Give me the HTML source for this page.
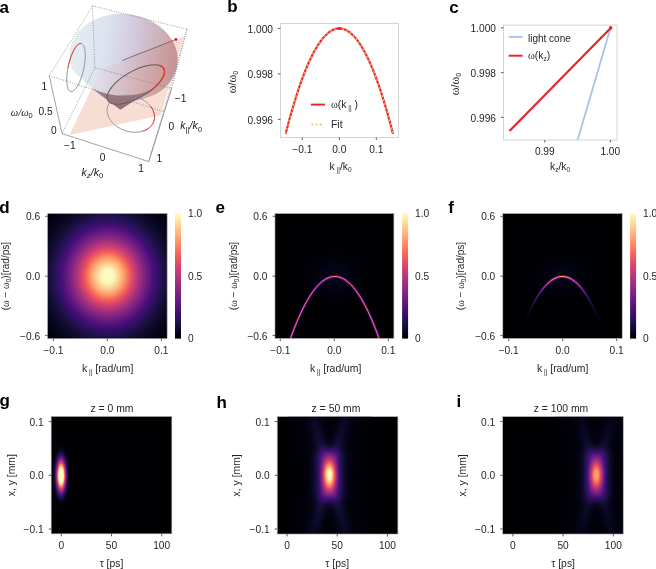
<!DOCTYPE html>
<html><head><meta charset="utf-8"><style>
html,body{margin:0;padding:0;background:#fff;width:656px;height:569px;overflow:hidden}
svg{display:block;will-change:transform}

</style></head><body>
<svg width="656" height="569" viewBox="0 0 656 569" font-family="Liberation Sans, sans-serif">
<defs><filter id="mg" x="0" y="0" width="656" height="569" filterUnits="userSpaceOnUse" color-interpolation-filters="sRGB">
<feComponentTransfer><feFuncR type="table" tableValues="0.0015 0.0060 0.0137 0.0248 0.0396 0.0566 0.0743 0.0929 0.1131 0.1351 0.1590 0.1848 0.2117 0.2388 0.2654 0.2914 0.3229 0.3476 0.3721 0.3965 0.4208 0.4452 0.4696 0.4943 0.5190 0.5440 0.5692 0.5945 0.6200 0.6456 0.6713 0.6971 0.7292 0.7547 0.7800 0.8048 0.8289 0.8521 0.8742 0.8947 0.9134 0.9298 0.9440 0.9558 0.9655 0.9734 0.9796 0.9846 0.9894 0.9922 0.9943 0.9958 0.9968 0.9973 0.9973 0.9970 0.9964 0.9954 0.9942 0.9928 0.9913 0.9898 0.9884 0.9871"/><feFuncG type="table" tableValues="0.0005 0.0048 0.0118 0.0207 0.0311 0.0422 0.0520 0.0599 0.0655 0.0684 0.0684 0.0657 0.0620 0.0595 0.0602 0.0646 0.0738 0.0829 0.0928 0.1029 0.1129 0.1227 0.1322 0.1415 0.1504 0.1590 0.1675 0.1757 0.1838 0.1920 0.2001 0.2085 0.2194 0.2288 0.2389 0.2499 0.2622 0.2761 0.2919 0.3098 0.3301 0.3527 0.3776 0.4044 0.4325 0.4615 0.4910 0.5207 0.5579 0.5875 0.6170 0.6463 0.6755 0.7046 0.7335 0.7624 0.7912 0.8199 0.8485 0.8772 0.9058 0.9343 0.9629 0.9914"/><feFuncB type="table" tableValues="0.0139 0.0371 0.0687 0.1007 0.1335 0.1674 0.2027 0.2392 0.2768 0.3150 0.3527 0.3880 0.4186 0.4433 0.4618 0.4755 0.4874 0.4941 0.4991 0.5027 0.5052 0.5069 0.5078 0.5080 0.5074 0.5062 0.5041 0.5012 0.4975 0.4929 0.4874 0.4808 0.4713 0.4625 0.4528 0.4421 0.4306 0.4186 0.4062 0.3940 0.3826 0.3727 0.3651 0.3606 0.3595 0.3620 0.3678 0.3767 0.3917 0.4063 0.4229 0.4414 0.4613 0.4826 0.5052 0.5288 0.5535 0.5791 0.6057 0.6331 0.6613 0.6902 0.7196 0.7495"/></feComponentTransfer></filter><filter id="mgb" x="0" y="0" width="656" height="569" filterUnits="userSpaceOnUse" color-interpolation-filters="sRGB">
<feGaussianBlur stdDeviation="0.3 0.6"/><feComponentTransfer><feFuncR type="table" tableValues="0.0015 0.0060 0.0137 0.0248 0.0396 0.0566 0.0743 0.0929 0.1131 0.1351 0.1590 0.1848 0.2117 0.2388 0.2654 0.2914 0.3229 0.3476 0.3721 0.3965 0.4208 0.4452 0.4696 0.4943 0.5190 0.5440 0.5692 0.5945 0.6200 0.6456 0.6713 0.6971 0.7292 0.7547 0.7800 0.8048 0.8289 0.8521 0.8742 0.8947 0.9134 0.9298 0.9440 0.9558 0.9655 0.9734 0.9796 0.9846 0.9894 0.9922 0.9943 0.9958 0.9968 0.9973 0.9973 0.9970 0.9964 0.9954 0.9942 0.9928 0.9913 0.9898 0.9884 0.9871"/><feFuncG type="table" tableValues="0.0005 0.0048 0.0118 0.0207 0.0311 0.0422 0.0520 0.0599 0.0655 0.0684 0.0684 0.0657 0.0620 0.0595 0.0602 0.0646 0.0738 0.0829 0.0928 0.1029 0.1129 0.1227 0.1322 0.1415 0.1504 0.1590 0.1675 0.1757 0.1838 0.1920 0.2001 0.2085 0.2194 0.2288 0.2389 0.2499 0.2622 0.2761 0.2919 0.3098 0.3301 0.3527 0.3776 0.4044 0.4325 0.4615 0.4910 0.5207 0.5579 0.5875 0.6170 0.6463 0.6755 0.7046 0.7335 0.7624 0.7912 0.8199 0.8485 0.8772 0.9058 0.9343 0.9629 0.9914"/><feFuncB type="table" tableValues="0.0139 0.0371 0.0687 0.1007 0.1335 0.1674 0.2027 0.2392 0.2768 0.3150 0.3527 0.3880 0.4186 0.4433 0.4618 0.4755 0.4874 0.4941 0.4991 0.5027 0.5052 0.5069 0.5078 0.5080 0.5074 0.5062 0.5041 0.5012 0.4975 0.4929 0.4874 0.4808 0.4713 0.4625 0.4528 0.4421 0.4306 0.4186 0.4062 0.3940 0.3826 0.3727 0.3651 0.3606 0.3595 0.3620 0.3678 0.3767 0.3917 0.4063 0.4229 0.4414 0.4613 0.4826 0.5052 0.5288 0.5535 0.5791 0.6057 0.6331 0.6613 0.6902 0.7196 0.7495"/></feComponentTransfer></filter><linearGradient id="cbar" x1="0" y1="0" x2="0" y2="1"><stop offset="0.0000" stop-color="#fcfdbf"/><stop offset="0.0312" stop-color="#fcf0b2"/><stop offset="0.0625" stop-color="#fde2a3"/><stop offset="0.0938" stop-color="#fed395"/><stop offset="0.1250" stop-color="#fec488"/><stop offset="0.1562" stop-color="#feb67c"/><stop offset="0.1875" stop-color="#fea772"/><stop offset="0.2188" stop-color="#fd9869"/><stop offset="0.2500" stop-color="#fc8961"/><stop offset="0.2812" stop-color="#f9795d"/><stop offset="0.3125" stop-color="#f56b5c"/><stop offset="0.3438" stop-color="#ef5d5e"/><stop offset="0.3750" stop-color="#e75263"/><stop offset="0.4062" stop-color="#dc4869"/><stop offset="0.4375" stop-color="#d0416f"/><stop offset="0.4688" stop-color="#c43c75"/><stop offset="0.5000" stop-color="#b73779"/><stop offset="0.5312" stop-color="#aa337d"/><stop offset="0.5625" stop-color="#9c2e7f"/><stop offset="0.5938" stop-color="#902a81"/><stop offset="0.6250" stop-color="#832681"/><stop offset="0.6562" stop-color="#762181"/><stop offset="0.6875" stop-color="#6a1c81"/><stop offset="0.7188" stop-color="#5d177f"/><stop offset="0.7500" stop-color="#51127c"/><stop offset="0.7812" stop-color="#440f76"/><stop offset="0.8125" stop-color="#36106b"/><stop offset="0.8438" stop-color="#29115a"/><stop offset="0.8750" stop-color="#1d1147"/><stop offset="0.9062" stop-color="#130d34"/><stop offset="0.9375" stop-color="#0a0822"/><stop offset="0.9688" stop-color="#030312"/><stop offset="1.0000" stop-color="#000004"/></linearGradient><radialGradient id="gd" gradientUnits="userSpaceOnUse" cx="0" cy="0" r="1" gradientTransform="translate(107.6 276.2) scale(129.25 141.35)"><stop offset="0.0000" stop-color="rgb(255,255,255)"/><stop offset="0.0250" stop-color="rgb(255,255,255)"/><stop offset="0.0500" stop-color="rgb(252,252,252)"/><stop offset="0.0750" stop-color="rgb(238,238,238)"/><stop offset="0.1000" stop-color="rgb(222,222,222)"/><stop offset="0.1250" stop-color="rgb(205,205,205)"/><stop offset="0.1500" stop-color="rgb(186,186,186)"/><stop offset="0.1750" stop-color="rgb(167,167,167)"/><stop offset="0.2000" stop-color="rgb(149,149,149)"/><stop offset="0.2250" stop-color="rgb(132,132,132)"/><stop offset="0.2500" stop-color="rgb(115,115,115)"/><stop offset="0.2750" stop-color="rgb(100,100,100)"/><stop offset="0.3000" stop-color="rgb(85,85,85)"/><stop offset="0.3250" stop-color="rgb(73,73,73)"/><stop offset="0.3500" stop-color="rgb(61,61,61)"/><stop offset="0.3750" stop-color="rgb(51,51,51)"/><stop offset="0.4000" stop-color="rgb(43,43,43)"/><stop offset="0.4250" stop-color="rgb(35,35,35)"/><stop offset="0.4500" stop-color="rgb(29,29,29)"/><stop offset="0.4750" stop-color="rgb(23,23,23)"/><stop offset="0.5000" stop-color="rgb(19,19,19)"/><stop offset="0.5250" stop-color="rgb(15,15,15)"/><stop offset="0.5500" stop-color="rgb(12,12,12)"/><stop offset="0.5750" stop-color="rgb(9,9,9)"/><stop offset="0.6000" stop-color="rgb(7,7,7)"/><stop offset="0.6250" stop-color="rgb(6,6,6)"/><stop offset="0.6500" stop-color="rgb(4,4,4)"/><stop offset="0.6750" stop-color="rgb(3,3,3)"/><stop offset="0.7000" stop-color="rgb(3,3,3)"/><stop offset="0.7250" stop-color="rgb(2,2,2)"/><stop offset="0.7500" stop-color="rgb(2,2,2)"/><stop offset="0.7750" stop-color="rgb(1,1,1)"/><stop offset="0.8000" stop-color="rgb(1,1,1)"/><stop offset="0.8250" stop-color="rgb(1,1,1)"/><stop offset="0.8500" stop-color="rgb(0,0,0)"/><stop offset="0.8750" stop-color="rgb(0,0,0)"/><stop offset="0.9000" stop-color="rgb(0,0,0)"/><stop offset="0.9250" stop-color="rgb(0,0,0)"/><stop offset="0.9500" stop-color="rgb(0,0,0)"/><stop offset="0.9750" stop-color="rgb(0,0,0)"/><stop offset="1.0000" stop-color="rgb(0,0,0)"/></radialGradient><clipPath id="ce"><rect x="275" y="213.4" width="118.89999999999998" height="125.20000000000002"/></clipPath><radialGradient id="ge_glow" gradientUnits="userSpaceOnUse" cx="0" cy="0" r="1" gradientTransform="translate(334.8 276.5) rotate(0) scale(72.0 60.0)"><stop offset="0.0000" stop-color="#fff" stop-opacity="0.0500"/><stop offset="0.0250" stop-color="#fff" stop-opacity="0.0498"/><stop offset="0.0500" stop-color="#fff" stop-opacity="0.0490"/><stop offset="0.0750" stop-color="#fff" stop-opacity="0.0478"/><stop offset="0.1000" stop-color="#fff" stop-opacity="0.0462"/><stop offset="0.1250" stop-color="#fff" stop-opacity="0.0441"/><stop offset="0.1500" stop-color="#fff" stop-opacity="0.0418"/><stop offset="0.1750" stop-color="#fff" stop-opacity="0.0391"/><stop offset="0.2000" stop-color="#fff" stop-opacity="0.0363"/><stop offset="0.2250" stop-color="#fff" stop-opacity="0.0333"/><stop offset="0.2500" stop-color="#fff" stop-opacity="0.0303"/><stop offset="0.2750" stop-color="#fff" stop-opacity="0.0273"/><stop offset="0.3000" stop-color="#fff" stop-opacity="0.0243"/><stop offset="0.3250" stop-color="#fff" stop-opacity="0.0215"/><stop offset="0.3500" stop-color="#fff" stop-opacity="0.0188"/><stop offset="0.3750" stop-color="#fff" stop-opacity="0.0162"/><stop offset="0.4000" stop-color="#fff" stop-opacity="0.0139"/><stop offset="0.4250" stop-color="#fff" stop-opacity="0.0118"/><stop offset="0.4500" stop-color="#fff" stop-opacity="0.0099"/><stop offset="0.4750" stop-color="#fff" stop-opacity="0.0082"/><stop offset="0.5000" stop-color="#fff" stop-opacity="0.0068"/><stop offset="0.5250" stop-color="#fff" stop-opacity="0.0055"/><stop offset="0.5500" stop-color="#fff" stop-opacity="0.0044"/><stop offset="0.5750" stop-color="#fff" stop-opacity="0.0036"/><stop offset="0.6000" stop-color="#fff" stop-opacity="0.0028"/><stop offset="0.6250" stop-color="#fff" stop-opacity="0.0022"/><stop offset="0.6500" stop-color="#fff" stop-opacity="0.0017"/><stop offset="0.6750" stop-color="#fff" stop-opacity="0.0013"/><stop offset="0.7000" stop-color="#fff" stop-opacity="0.0010"/><stop offset="0.7250" stop-color="#fff" stop-opacity="0.0007"/><stop offset="0.7500" stop-color="#fff" stop-opacity="0.0006"/><stop offset="0.7750" stop-color="#fff" stop-opacity="0.0004"/><stop offset="0.8000" stop-color="#fff" stop-opacity="0.0003"/><stop offset="0.8250" stop-color="#fff" stop-opacity="0.0002"/><stop offset="0.8500" stop-color="#fff" stop-opacity="0.0002"/><stop offset="0.8750" stop-color="#fff" stop-opacity="0.0001"/><stop offset="0.9000" stop-color="#fff" stop-opacity="0.0001"/><stop offset="0.9250" stop-color="#fff" stop-opacity="0.0001"/><stop offset="0.9500" stop-color="#fff" stop-opacity="0.0000"/><stop offset="0.9750" stop-color="#fff" stop-opacity="0.0000"/><stop offset="1.0000" stop-color="#fff" stop-opacity="0.0000"/></radialGradient><clipPath id="cf"><rect x="502.8" y="213.4" width="119.40000000000003" height="125.20000000000002"/></clipPath><radialGradient id="gfm" gradientUnits="userSpaceOnUse" cx="0" cy="0" r="1" gradientTransform="translate(562.4 276.5) scale(105 117.5)"><stop offset="0.0000" stop-color="rgb(255,255,255)"/><stop offset="0.0250" stop-color="rgb(253,253,253)"/><stop offset="0.0500" stop-color="rgb(247,247,247)"/><stop offset="0.0750" stop-color="rgb(238,238,238)"/><stop offset="0.1000" stop-color="rgb(225,225,225)"/><stop offset="0.1250" stop-color="rgb(210,210,210)"/><stop offset="0.1500" stop-color="rgb(192,192,192)"/><stop offset="0.1750" stop-color="rgb(174,174,174)"/><stop offset="0.2000" stop-color="rgb(155,155,155)"/><stop offset="0.2250" stop-color="rgb(135,135,135)"/><stop offset="0.2500" stop-color="rgb(117,117,117)"/><stop offset="0.2750" stop-color="rgb(99,99,99)"/><stop offset="0.3000" stop-color="rgb(83,83,83)"/><stop offset="0.3250" stop-color="rgb(68,68,68)"/><stop offset="0.3500" stop-color="rgb(55,55,55)"/><stop offset="0.3750" stop-color="rgb(44,44,44)"/><stop offset="0.4000" stop-color="rgb(35,35,35)"/><stop offset="0.4250" stop-color="rgb(27,27,27)"/><stop offset="0.4500" stop-color="rgb(20,20,20)"/><stop offset="0.4750" stop-color="rgb(15,15,15)"/><stop offset="0.5000" stop-color="rgb(11,11,11)"/><stop offset="0.5250" stop-color="rgb(8,8,8)"/><stop offset="0.5500" stop-color="rgb(6,6,6)"/><stop offset="0.5750" stop-color="rgb(4,4,4)"/><stop offset="0.6000" stop-color="rgb(3,3,3)"/><stop offset="0.6250" stop-color="rgb(2,2,2)"/><stop offset="0.6500" stop-color="rgb(1,1,1)"/><stop offset="0.6750" stop-color="rgb(1,1,1)"/><stop offset="0.7000" stop-color="rgb(1,1,1)"/><stop offset="0.7250" stop-color="rgb(0,0,0)"/><stop offset="0.7500" stop-color="rgb(0,0,0)"/><stop offset="0.7750" stop-color="rgb(0,0,0)"/><stop offset="0.8000" stop-color="rgb(0,0,0)"/><stop offset="0.8250" stop-color="rgb(0,0,0)"/><stop offset="0.8500" stop-color="rgb(0,0,0)"/><stop offset="0.8750" stop-color="rgb(0,0,0)"/><stop offset="0.9000" stop-color="rgb(0,0,0)"/><stop offset="0.9250" stop-color="rgb(0,0,0)"/><stop offset="0.9500" stop-color="rgb(0,0,0)"/><stop offset="0.9750" stop-color="rgb(0,0,0)"/><stop offset="1.0000" stop-color="rgb(0,0,0)"/></radialGradient><mask id="mf" maskUnits="userSpaceOnUse" x="502.8" y="213.4" width="119.40000000000003" height="125.20000000000002"><rect x="502.8" y="213.4" width="119.40000000000003" height="125.20000000000002" fill="url(#gfm)"/></mask><radialGradient id="gf_glow" gradientUnits="userSpaceOnUse" cx="0" cy="0" r="1" gradientTransform="translate(562.4 276.5) rotate(0) scale(64.0 56.0)"><stop offset="0.0000" stop-color="#fff" stop-opacity="0.0450"/><stop offset="0.0250" stop-color="#fff" stop-opacity="0.0448"/><stop offset="0.0500" stop-color="#fff" stop-opacity="0.0441"/><stop offset="0.0750" stop-color="#fff" stop-opacity="0.0430"/><stop offset="0.1000" stop-color="#fff" stop-opacity="0.0415"/><stop offset="0.1250" stop-color="#fff" stop-opacity="0.0397"/><stop offset="0.1500" stop-color="#fff" stop-opacity="0.0376"/><stop offset="0.1750" stop-color="#fff" stop-opacity="0.0352"/><stop offset="0.2000" stop-color="#fff" stop-opacity="0.0327"/><stop offset="0.2250" stop-color="#fff" stop-opacity="0.0300"/><stop offset="0.2500" stop-color="#fff" stop-opacity="0.0273"/><stop offset="0.2750" stop-color="#fff" stop-opacity="0.0246"/><stop offset="0.3000" stop-color="#fff" stop-opacity="0.0219"/><stop offset="0.3250" stop-color="#fff" stop-opacity="0.0193"/><stop offset="0.3500" stop-color="#fff" stop-opacity="0.0169"/><stop offset="0.3750" stop-color="#fff" stop-opacity="0.0146"/><stop offset="0.4000" stop-color="#fff" stop-opacity="0.0125"/><stop offset="0.4250" stop-color="#fff" stop-opacity="0.0106"/><stop offset="0.4500" stop-color="#fff" stop-opacity="0.0089"/><stop offset="0.4750" stop-color="#fff" stop-opacity="0.0074"/><stop offset="0.5000" stop-color="#fff" stop-opacity="0.0061"/><stop offset="0.5250" stop-color="#fff" stop-opacity="0.0050"/><stop offset="0.5500" stop-color="#fff" stop-opacity="0.0040"/><stop offset="0.5750" stop-color="#fff" stop-opacity="0.0032"/><stop offset="0.6000" stop-color="#fff" stop-opacity="0.0025"/><stop offset="0.6250" stop-color="#fff" stop-opacity="0.0020"/><stop offset="0.6500" stop-color="#fff" stop-opacity="0.0015"/><stop offset="0.6750" stop-color="#fff" stop-opacity="0.0012"/><stop offset="0.7000" stop-color="#fff" stop-opacity="0.0009"/><stop offset="0.7250" stop-color="#fff" stop-opacity="0.0007"/><stop offset="0.7500" stop-color="#fff" stop-opacity="0.0005"/><stop offset="0.7750" stop-color="#fff" stop-opacity="0.0004"/><stop offset="0.8000" stop-color="#fff" stop-opacity="0.0003"/><stop offset="0.8250" stop-color="#fff" stop-opacity="0.0002"/><stop offset="0.8500" stop-color="#fff" stop-opacity="0.0001"/><stop offset="0.8750" stop-color="#fff" stop-opacity="0.0001"/><stop offset="0.9000" stop-color="#fff" stop-opacity="0.0001"/><stop offset="0.9250" stop-color="#fff" stop-opacity="0.0000"/><stop offset="0.9500" stop-color="#fff" stop-opacity="0.0000"/><stop offset="0.9750" stop-color="#fff" stop-opacity="0.0000"/><stop offset="1.0000" stop-color="#fff" stop-opacity="0.0000"/></radialGradient><radialGradient id="gg" gradientUnits="userSpaceOnUse" cx="0" cy="0" r="1" gradientTransform="translate(61.1 475.6) scale(13.950000000000001 47.25)"><stop offset="0.0000" stop-color="rgb(255,255,255)"/><stop offset="0.0250" stop-color="rgb(255,255,255)"/><stop offset="0.0500" stop-color="rgb(255,255,255)"/><stop offset="0.0750" stop-color="rgb(255,255,255)"/><stop offset="0.1000" stop-color="rgb(255,255,255)"/><stop offset="0.1250" stop-color="rgb(255,255,255)"/><stop offset="0.1500" stop-color="rgb(255,255,255)"/><stop offset="0.1750" stop-color="rgb(243,243,243)"/><stop offset="0.2000" stop-color="rgb(221,221,221)"/><stop offset="0.2250" stop-color="rgb(199,199,199)"/><stop offset="0.2500" stop-color="rgb(176,176,176)"/><stop offset="0.2750" stop-color="rgb(154,154,154)"/><stop offset="0.3000" stop-color="rgb(133,133,133)"/><stop offset="0.3250" stop-color="rgb(114,114,114)"/><stop offset="0.3500" stop-color="rgb(96,96,96)"/><stop offset="0.3750" stop-color="rgb(80,80,80)"/><stop offset="0.4000" stop-color="rgb(66,66,66)"/><stop offset="0.4250" stop-color="rgb(53,53,53)"/><stop offset="0.4500" stop-color="rgb(43,43,43)"/><stop offset="0.4750" stop-color="rgb(34,34,34)"/><stop offset="0.5000" stop-color="rgb(26,26,26)"/><stop offset="0.5250" stop-color="rgb(20,20,20)"/><stop offset="0.5500" stop-color="rgb(15,15,15)"/><stop offset="0.5750" stop-color="rgb(12,12,12)"/><stop offset="0.6000" stop-color="rgb(9,9,9)"/><stop offset="0.6250" stop-color="rgb(6,6,6)"/><stop offset="0.6500" stop-color="rgb(5,5,5)"/><stop offset="0.6750" stop-color="rgb(3,3,3)"/><stop offset="0.7000" stop-color="rgb(2,2,2)"/><stop offset="0.7250" stop-color="rgb(2,2,2)"/><stop offset="0.7500" stop-color="rgb(1,1,1)"/><stop offset="0.7750" stop-color="rgb(1,1,1)"/><stop offset="0.8000" stop-color="rgb(1,1,1)"/><stop offset="0.8250" stop-color="rgb(0,0,0)"/><stop offset="0.8500" stop-color="rgb(0,0,0)"/><stop offset="0.8750" stop-color="rgb(0,0,0)"/><stop offset="0.9000" stop-color="rgb(0,0,0)"/><stop offset="0.9250" stop-color="rgb(0,0,0)"/><stop offset="0.9500" stop-color="rgb(0,0,0)"/><stop offset="0.9750" stop-color="rgb(0,0,0)"/><stop offset="1.0000" stop-color="rgb(0,0,0)"/></radialGradient><linearGradient id="xr0" gradientUnits="userSpaceOnUse" x1="0" y1="0" x2="42" y2="0" spreadMethod="reflect"><stop offset="0.000" stop-color="rgb(255,255,255)"/><stop offset="0.048" stop-color="rgb(250,250,250)"/><stop offset="0.095" stop-color="rgb(201,201,201)"/><stop offset="0.143" stop-color="rgb(143,143,143)"/><stop offset="0.190" stop-color="rgb(93,93,93)"/><stop offset="0.238" stop-color="rgb(58,58,58)"/><stop offset="0.286" stop-color="rgb(37,37,37)"/><stop offset="0.333" stop-color="rgb(25,25,25)"/><stop offset="0.381" stop-color="rgb(17,17,17)"/><stop offset="0.429" stop-color="rgb(12,12,12)"/><stop offset="0.476" stop-color="rgb(8,8,8)"/><stop offset="0.524" stop-color="rgb(5,5,5)"/><stop offset="0.571" stop-color="rgb(4,4,4)"/><stop offset="0.619" stop-color="rgb(3,3,3)"/><stop offset="0.667" stop-color="rgb(2,2,2)"/><stop offset="0.714" stop-color="rgb(2,2,2)"/><stop offset="0.762" stop-color="rgb(2,2,2)"/><stop offset="0.810" stop-color="rgb(1,1,1)"/><stop offset="0.857" stop-color="rgb(1,1,1)"/><stop offset="0.905" stop-color="rgb(1,1,1)"/><stop offset="0.952" stop-color="rgb(1,1,1)"/><stop offset="1.000" stop-color="rgb(1,1,1)"/></linearGradient><linearGradient id="xr1" gradientUnits="userSpaceOnUse" x1="0" y1="0" x2="42" y2="0" spreadMethod="reflect"><stop offset="0.000" stop-color="rgb(255,255,255)"/><stop offset="0.048" stop-color="rgb(249,249,249)"/><stop offset="0.095" stop-color="rgb(200,200,200)"/><stop offset="0.143" stop-color="rgb(142,142,142)"/><stop offset="0.190" stop-color="rgb(92,92,92)"/><stop offset="0.238" stop-color="rgb(58,58,58)"/><stop offset="0.286" stop-color="rgb(37,37,37)"/><stop offset="0.333" stop-color="rgb(25,25,25)"/><stop offset="0.381" stop-color="rgb(17,17,17)"/><stop offset="0.429" stop-color="rgb(12,12,12)"/><stop offset="0.476" stop-color="rgb(8,8,8)"/><stop offset="0.524" stop-color="rgb(5,5,5)"/><stop offset="0.571" stop-color="rgb(4,4,4)"/><stop offset="0.619" stop-color="rgb(3,3,3)"/><stop offset="0.667" stop-color="rgb(2,2,2)"/><stop offset="0.714" stop-color="rgb(2,2,2)"/><stop offset="0.762" stop-color="rgb(2,2,2)"/><stop offset="0.810" stop-color="rgb(1,1,1)"/><stop offset="0.857" stop-color="rgb(1,1,1)"/><stop offset="0.905" stop-color="rgb(1,1,1)"/><stop offset="0.952" stop-color="rgb(1,1,1)"/><stop offset="1.000" stop-color="rgb(1,1,1)"/></linearGradient><linearGradient id="xr2" gradientUnits="userSpaceOnUse" x1="0" y1="0" x2="42" y2="0" spreadMethod="reflect"><stop offset="0.000" stop-color="rgb(255,255,255)"/><stop offset="0.048" stop-color="rgb(246,246,246)"/><stop offset="0.095" stop-color="rgb(198,198,198)"/><stop offset="0.143" stop-color="rgb(140,140,140)"/><stop offset="0.190" stop-color="rgb(92,92,92)"/><stop offset="0.238" stop-color="rgb(58,58,58)"/><stop offset="0.286" stop-color="rgb(37,37,37)"/><stop offset="0.333" stop-color="rgb(25,25,25)"/><stop offset="0.381" stop-color="rgb(17,17,17)"/><stop offset="0.429" stop-color="rgb(12,12,12)"/><stop offset="0.476" stop-color="rgb(8,8,8)"/><stop offset="0.524" stop-color="rgb(5,5,5)"/><stop offset="0.571" stop-color="rgb(4,4,4)"/><stop offset="0.619" stop-color="rgb(3,3,3)"/><stop offset="0.667" stop-color="rgb(2,2,2)"/><stop offset="0.714" stop-color="rgb(2,2,2)"/><stop offset="0.762" stop-color="rgb(2,2,2)"/><stop offset="0.810" stop-color="rgb(1,1,1)"/><stop offset="0.857" stop-color="rgb(1,1,1)"/><stop offset="0.905" stop-color="rgb(1,1,1)"/><stop offset="0.952" stop-color="rgb(1,1,1)"/><stop offset="1.000" stop-color="rgb(1,1,1)"/></linearGradient><linearGradient id="xr3" gradientUnits="userSpaceOnUse" x1="0" y1="0" x2="42" y2="0" spreadMethod="reflect"><stop offset="0.000" stop-color="rgb(255,255,255)"/><stop offset="0.048" stop-color="rgb(241,241,241)"/><stop offset="0.095" stop-color="rgb(194,194,194)"/><stop offset="0.143" stop-color="rgb(138,138,138)"/><stop offset="0.190" stop-color="rgb(91,91,91)"/><stop offset="0.238" stop-color="rgb(58,58,58)"/><stop offset="0.286" stop-color="rgb(37,37,37)"/><stop offset="0.333" stop-color="rgb(25,25,25)"/><stop offset="0.381" stop-color="rgb(17,17,17)"/><stop offset="0.429" stop-color="rgb(12,12,12)"/><stop offset="0.476" stop-color="rgb(8,8,8)"/><stop offset="0.524" stop-color="rgb(6,6,6)"/><stop offset="0.571" stop-color="rgb(4,4,4)"/><stop offset="0.619" stop-color="rgb(3,3,3)"/><stop offset="0.667" stop-color="rgb(2,2,2)"/><stop offset="0.714" stop-color="rgb(2,2,2)"/><stop offset="0.762" stop-color="rgb(2,2,2)"/><stop offset="0.810" stop-color="rgb(1,1,1)"/><stop offset="0.857" stop-color="rgb(1,1,1)"/><stop offset="0.905" stop-color="rgb(1,1,1)"/><stop offset="0.952" stop-color="rgb(1,1,1)"/><stop offset="1.000" stop-color="rgb(1,1,1)"/></linearGradient><linearGradient id="xr4" gradientUnits="userSpaceOnUse" x1="0" y1="0" x2="42" y2="0" spreadMethod="reflect"><stop offset="0.000" stop-color="rgb(253,253,253)"/><stop offset="0.048" stop-color="rgb(235,235,235)"/><stop offset="0.095" stop-color="rgb(190,190,190)"/><stop offset="0.143" stop-color="rgb(136,136,136)"/><stop offset="0.190" stop-color="rgb(90,90,90)"/><stop offset="0.238" stop-color="rgb(57,57,57)"/><stop offset="0.286" stop-color="rgb(37,37,37)"/><stop offset="0.333" stop-color="rgb(25,25,25)"/><stop offset="0.381" stop-color="rgb(17,17,17)"/><stop offset="0.429" stop-color="rgb(12,12,12)"/><stop offset="0.476" stop-color="rgb(8,8,8)"/><stop offset="0.524" stop-color="rgb(6,6,6)"/><stop offset="0.571" stop-color="rgb(4,4,4)"/><stop offset="0.619" stop-color="rgb(3,3,3)"/><stop offset="0.667" stop-color="rgb(2,2,2)"/><stop offset="0.714" stop-color="rgb(2,2,2)"/><stop offset="0.762" stop-color="rgb(2,2,2)"/><stop offset="0.810" stop-color="rgb(1,1,1)"/><stop offset="0.857" stop-color="rgb(1,1,1)"/><stop offset="0.905" stop-color="rgb(1,1,1)"/><stop offset="0.952" stop-color="rgb(1,1,1)"/><stop offset="1.000" stop-color="rgb(1,1,1)"/></linearGradient><linearGradient id="xr5" gradientUnits="userSpaceOnUse" x1="0" y1="0" x2="42" y2="0" spreadMethod="reflect"><stop offset="0.000" stop-color="rgb(246,246,246)"/><stop offset="0.048" stop-color="rgb(228,228,228)"/><stop offset="0.095" stop-color="rgb(185,185,185)"/><stop offset="0.143" stop-color="rgb(133,133,133)"/><stop offset="0.190" stop-color="rgb(88,88,88)"/><stop offset="0.238" stop-color="rgb(57,57,57)"/><stop offset="0.286" stop-color="rgb(37,37,37)"/><stop offset="0.333" stop-color="rgb(25,25,25)"/><stop offset="0.381" stop-color="rgb(17,17,17)"/><stop offset="0.429" stop-color="rgb(12,12,12)"/><stop offset="0.476" stop-color="rgb(8,8,8)"/><stop offset="0.524" stop-color="rgb(6,6,6)"/><stop offset="0.571" stop-color="rgb(4,4,4)"/><stop offset="0.619" stop-color="rgb(3,3,3)"/><stop offset="0.667" stop-color="rgb(2,2,2)"/><stop offset="0.714" stop-color="rgb(2,2,2)"/><stop offset="0.762" stop-color="rgb(2,2,2)"/><stop offset="0.810" stop-color="rgb(1,1,1)"/><stop offset="0.857" stop-color="rgb(1,1,1)"/><stop offset="0.905" stop-color="rgb(1,1,1)"/><stop offset="0.952" stop-color="rgb(1,1,1)"/><stop offset="1.000" stop-color="rgb(1,1,1)"/></linearGradient><linearGradient id="xr6" gradientUnits="userSpaceOnUse" x1="0" y1="0" x2="42" y2="0" spreadMethod="reflect"><stop offset="0.000" stop-color="rgb(237,237,237)"/><stop offset="0.048" stop-color="rgb(220,220,220)"/><stop offset="0.095" stop-color="rgb(179,179,179)"/><stop offset="0.143" stop-color="rgb(129,129,129)"/><stop offset="0.190" stop-color="rgb(86,86,86)"/><stop offset="0.238" stop-color="rgb(56,56,56)"/><stop offset="0.286" stop-color="rgb(37,37,37)"/><stop offset="0.333" stop-color="rgb(25,25,25)"/><stop offset="0.381" stop-color="rgb(17,17,17)"/><stop offset="0.429" stop-color="rgb(12,12,12)"/><stop offset="0.476" stop-color="rgb(8,8,8)"/><stop offset="0.524" stop-color="rgb(6,6,6)"/><stop offset="0.571" stop-color="rgb(4,4,4)"/><stop offset="0.619" stop-color="rgb(3,3,3)"/><stop offset="0.667" stop-color="rgb(2,2,2)"/><stop offset="0.714" stop-color="rgb(2,2,2)"/><stop offset="0.762" stop-color="rgb(2,2,2)"/><stop offset="0.810" stop-color="rgb(1,1,1)"/><stop offset="0.857" stop-color="rgb(1,1,1)"/><stop offset="0.905" stop-color="rgb(1,1,1)"/><stop offset="0.952" stop-color="rgb(1,1,1)"/><stop offset="1.000" stop-color="rgb(1,1,1)"/></linearGradient><linearGradient id="xr7" gradientUnits="userSpaceOnUse" x1="0" y1="0" x2="42" y2="0" spreadMethod="reflect"><stop offset="0.000" stop-color="rgb(227,227,227)"/><stop offset="0.048" stop-color="rgb(211,211,211)"/><stop offset="0.095" stop-color="rgb(172,172,172)"/><stop offset="0.143" stop-color="rgb(126,126,126)"/><stop offset="0.190" stop-color="rgb(85,85,85)"/><stop offset="0.238" stop-color="rgb(56,56,56)"/><stop offset="0.286" stop-color="rgb(37,37,37)"/><stop offset="0.333" stop-color="rgb(25,25,25)"/><stop offset="0.381" stop-color="rgb(18,18,18)"/><stop offset="0.429" stop-color="rgb(12,12,12)"/><stop offset="0.476" stop-color="rgb(8,8,8)"/><stop offset="0.524" stop-color="rgb(6,6,6)"/><stop offset="0.571" stop-color="rgb(4,4,4)"/><stop offset="0.619" stop-color="rgb(3,3,3)"/><stop offset="0.667" stop-color="rgb(2,2,2)"/><stop offset="0.714" stop-color="rgb(2,2,2)"/><stop offset="0.762" stop-color="rgb(2,2,2)"/><stop offset="0.810" stop-color="rgb(1,1,1)"/><stop offset="0.857" stop-color="rgb(1,1,1)"/><stop offset="0.905" stop-color="rgb(1,1,1)"/><stop offset="0.952" stop-color="rgb(1,1,1)"/><stop offset="1.000" stop-color="rgb(1,1,1)"/></linearGradient><linearGradient id="xr8" gradientUnits="userSpaceOnUse" x1="0" y1="0" x2="42" y2="0" spreadMethod="reflect"><stop offset="0.000" stop-color="rgb(216,216,216)"/><stop offset="0.048" stop-color="rgb(202,202,202)"/><stop offset="0.095" stop-color="rgb(166,166,166)"/><stop offset="0.143" stop-color="rgb(122,122,122)"/><stop offset="0.190" stop-color="rgb(83,83,83)"/><stop offset="0.238" stop-color="rgb(55,55,55)"/><stop offset="0.286" stop-color="rgb(37,37,37)"/><stop offset="0.333" stop-color="rgb(25,25,25)"/><stop offset="0.381" stop-color="rgb(18,18,18)"/><stop offset="0.429" stop-color="rgb(12,12,12)"/><stop offset="0.476" stop-color="rgb(9,9,9)"/><stop offset="0.524" stop-color="rgb(6,6,6)"/><stop offset="0.571" stop-color="rgb(4,4,4)"/><stop offset="0.619" stop-color="rgb(3,3,3)"/><stop offset="0.667" stop-color="rgb(2,2,2)"/><stop offset="0.714" stop-color="rgb(2,2,2)"/><stop offset="0.762" stop-color="rgb(2,2,2)"/><stop offset="0.810" stop-color="rgb(2,2,2)"/><stop offset="0.857" stop-color="rgb(1,1,1)"/><stop offset="0.905" stop-color="rgb(1,1,1)"/><stop offset="0.952" stop-color="rgb(1,1,1)"/><stop offset="1.000" stop-color="rgb(1,1,1)"/></linearGradient><linearGradient id="xr9" gradientUnits="userSpaceOnUse" x1="0" y1="0" x2="42" y2="0" spreadMethod="reflect"><stop offset="0.000" stop-color="rgb(205,205,205)"/><stop offset="0.048" stop-color="rgb(192,192,192)"/><stop offset="0.095" stop-color="rgb(158,158,158)"/><stop offset="0.143" stop-color="rgb(118,118,118)"/><stop offset="0.190" stop-color="rgb(81,81,81)"/><stop offset="0.238" stop-color="rgb(55,55,55)"/><stop offset="0.286" stop-color="rgb(37,37,37)"/><stop offset="0.333" stop-color="rgb(26,26,26)"/><stop offset="0.381" stop-color="rgb(18,18,18)"/><stop offset="0.429" stop-color="rgb(12,12,12)"/><stop offset="0.476" stop-color="rgb(9,9,9)"/><stop offset="0.524" stop-color="rgb(6,6,6)"/><stop offset="0.571" stop-color="rgb(4,4,4)"/><stop offset="0.619" stop-color="rgb(3,3,3)"/><stop offset="0.667" stop-color="rgb(3,3,3)"/><stop offset="0.714" stop-color="rgb(2,2,2)"/><stop offset="0.762" stop-color="rgb(2,2,2)"/><stop offset="0.810" stop-color="rgb(2,2,2)"/><stop offset="0.857" stop-color="rgb(1,1,1)"/><stop offset="0.905" stop-color="rgb(1,1,1)"/><stop offset="0.952" stop-color="rgb(1,1,1)"/><stop offset="1.000" stop-color="rgb(1,1,1)"/></linearGradient><linearGradient id="xr10" gradientUnits="userSpaceOnUse" x1="0" y1="0" x2="42" y2="0" spreadMethod="reflect"><stop offset="0.000" stop-color="rgb(194,194,194)"/><stop offset="0.048" stop-color="rgb(182,182,182)"/><stop offset="0.095" stop-color="rgb(151,151,151)"/><stop offset="0.143" stop-color="rgb(114,114,114)"/><stop offset="0.190" stop-color="rgb(79,79,79)"/><stop offset="0.238" stop-color="rgb(54,54,54)"/><stop offset="0.286" stop-color="rgb(37,37,37)"/><stop offset="0.333" stop-color="rgb(26,26,26)"/><stop offset="0.381" stop-color="rgb(18,18,18)"/><stop offset="0.429" stop-color="rgb(13,13,13)"/><stop offset="0.476" stop-color="rgb(9,9,9)"/><stop offset="0.524" stop-color="rgb(6,6,6)"/><stop offset="0.571" stop-color="rgb(5,5,5)"/><stop offset="0.619" stop-color="rgb(3,3,3)"/><stop offset="0.667" stop-color="rgb(3,3,3)"/><stop offset="0.714" stop-color="rgb(2,2,2)"/><stop offset="0.762" stop-color="rgb(2,2,2)"/><stop offset="0.810" stop-color="rgb(2,2,2)"/><stop offset="0.857" stop-color="rgb(1,1,1)"/><stop offset="0.905" stop-color="rgb(1,1,1)"/><stop offset="0.952" stop-color="rgb(1,1,1)"/><stop offset="1.000" stop-color="rgb(1,1,1)"/></linearGradient><linearGradient id="xr11" gradientUnits="userSpaceOnUse" x1="0" y1="0" x2="42" y2="0" spreadMethod="reflect"><stop offset="0.000" stop-color="rgb(182,182,182)"/><stop offset="0.048" stop-color="rgb(172,172,172)"/><stop offset="0.095" stop-color="rgb(144,144,144)"/><stop offset="0.143" stop-color="rgb(109,109,109)"/><stop offset="0.190" stop-color="rgb(78,78,78)"/><stop offset="0.238" stop-color="rgb(54,54,54)"/><stop offset="0.286" stop-color="rgb(37,37,37)"/><stop offset="0.333" stop-color="rgb(26,26,26)"/><stop offset="0.381" stop-color="rgb(18,18,18)"/><stop offset="0.429" stop-color="rgb(13,13,13)"/><stop offset="0.476" stop-color="rgb(9,9,9)"/><stop offset="0.524" stop-color="rgb(6,6,6)"/><stop offset="0.571" stop-color="rgb(5,5,5)"/><stop offset="0.619" stop-color="rgb(3,3,3)"/><stop offset="0.667" stop-color="rgb(3,3,3)"/><stop offset="0.714" stop-color="rgb(2,2,2)"/><stop offset="0.762" stop-color="rgb(2,2,2)"/><stop offset="0.810" stop-color="rgb(2,2,2)"/><stop offset="0.857" stop-color="rgb(1,1,1)"/><stop offset="0.905" stop-color="rgb(1,1,1)"/><stop offset="0.952" stop-color="rgb(1,1,1)"/><stop offset="1.000" stop-color="rgb(1,1,1)"/></linearGradient><linearGradient id="xr12" gradientUnits="userSpaceOnUse" x1="0" y1="0" x2="42" y2="0" spreadMethod="reflect"><stop offset="0.000" stop-color="rgb(171,171,171)"/><stop offset="0.048" stop-color="rgb(161,161,161)"/><stop offset="0.095" stop-color="rgb(137,137,137)"/><stop offset="0.143" stop-color="rgb(105,105,105)"/><stop offset="0.190" stop-color="rgb(76,76,76)"/><stop offset="0.238" stop-color="rgb(53,53,53)"/><stop offset="0.286" stop-color="rgb(37,37,37)"/><stop offset="0.333" stop-color="rgb(26,26,26)"/><stop offset="0.381" stop-color="rgb(18,18,18)"/><stop offset="0.429" stop-color="rgb(13,13,13)"/><stop offset="0.476" stop-color="rgb(9,9,9)"/><stop offset="0.524" stop-color="rgb(7,7,7)"/><stop offset="0.571" stop-color="rgb(5,5,5)"/><stop offset="0.619" stop-color="rgb(4,4,4)"/><stop offset="0.667" stop-color="rgb(3,3,3)"/><stop offset="0.714" stop-color="rgb(2,2,2)"/><stop offset="0.762" stop-color="rgb(2,2,2)"/><stop offset="0.810" stop-color="rgb(2,2,2)"/><stop offset="0.857" stop-color="rgb(1,1,1)"/><stop offset="0.905" stop-color="rgb(1,1,1)"/><stop offset="0.952" stop-color="rgb(1,1,1)"/><stop offset="1.000" stop-color="rgb(1,1,1)"/></linearGradient><linearGradient id="xr13" gradientUnits="userSpaceOnUse" x1="0" y1="0" x2="42" y2="0" spreadMethod="reflect"><stop offset="0.000" stop-color="rgb(160,160,160)"/><stop offset="0.048" stop-color="rgb(151,151,151)"/><stop offset="0.095" stop-color="rgb(129,129,129)"/><stop offset="0.143" stop-color="rgb(101,101,101)"/><stop offset="0.190" stop-color="rgb(74,74,74)"/><stop offset="0.238" stop-color="rgb(52,52,52)"/><stop offset="0.286" stop-color="rgb(37,37,37)"/><stop offset="0.333" stop-color="rgb(26,26,26)"/><stop offset="0.381" stop-color="rgb(18,18,18)"/><stop offset="0.429" stop-color="rgb(13,13,13)"/><stop offset="0.476" stop-color="rgb(9,9,9)"/><stop offset="0.524" stop-color="rgb(7,7,7)"/><stop offset="0.571" stop-color="rgb(5,5,5)"/><stop offset="0.619" stop-color="rgb(4,4,4)"/><stop offset="0.667" stop-color="rgb(3,3,3)"/><stop offset="0.714" stop-color="rgb(2,2,2)"/><stop offset="0.762" stop-color="rgb(2,2,2)"/><stop offset="0.810" stop-color="rgb(2,2,2)"/><stop offset="0.857" stop-color="rgb(1,1,1)"/><stop offset="0.905" stop-color="rgb(1,1,1)"/><stop offset="0.952" stop-color="rgb(1,1,1)"/><stop offset="1.000" stop-color="rgb(1,1,1)"/></linearGradient><linearGradient id="xr14" gradientUnits="userSpaceOnUse" x1="0" y1="0" x2="42" y2="0" spreadMethod="reflect"><stop offset="0.000" stop-color="rgb(148,148,148)"/><stop offset="0.048" stop-color="rgb(141,141,141)"/><stop offset="0.095" stop-color="rgb(122,122,122)"/><stop offset="0.143" stop-color="rgb(97,97,97)"/><stop offset="0.190" stop-color="rgb(72,72,72)"/><stop offset="0.238" stop-color="rgb(52,52,52)"/><stop offset="0.286" stop-color="rgb(37,37,37)"/><stop offset="0.333" stop-color="rgb(26,26,26)"/><stop offset="0.381" stop-color="rgb(18,18,18)"/><stop offset="0.429" stop-color="rgb(13,13,13)"/><stop offset="0.476" stop-color="rgb(9,9,9)"/><stop offset="0.524" stop-color="rgb(7,7,7)"/><stop offset="0.571" stop-color="rgb(5,5,5)"/><stop offset="0.619" stop-color="rgb(4,4,4)"/><stop offset="0.667" stop-color="rgb(3,3,3)"/><stop offset="0.714" stop-color="rgb(2,2,2)"/><stop offset="0.762" stop-color="rgb(2,2,2)"/><stop offset="0.810" stop-color="rgb(2,2,2)"/><stop offset="0.857" stop-color="rgb(2,2,2)"/><stop offset="0.905" stop-color="rgb(1,1,1)"/><stop offset="0.952" stop-color="rgb(1,1,1)"/><stop offset="1.000" stop-color="rgb(1,1,1)"/></linearGradient><linearGradient id="xr15" gradientUnits="userSpaceOnUse" x1="0" y1="0" x2="42" y2="0" spreadMethod="reflect"><stop offset="0.000" stop-color="rgb(138,138,138)"/><stop offset="0.048" stop-color="rgb(132,132,132)"/><stop offset="0.095" stop-color="rgb(115,115,115)"/><stop offset="0.143" stop-color="rgb(93,93,93)"/><stop offset="0.190" stop-color="rgb(71,71,71)"/><stop offset="0.238" stop-color="rgb(51,51,51)"/><stop offset="0.286" stop-color="rgb(36,36,36)"/><stop offset="0.333" stop-color="rgb(26,26,26)"/><stop offset="0.381" stop-color="rgb(18,18,18)"/><stop offset="0.429" stop-color="rgb(13,13,13)"/><stop offset="0.476" stop-color="rgb(9,9,9)"/><stop offset="0.524" stop-color="rgb(7,7,7)"/><stop offset="0.571" stop-color="rgb(5,5,5)"/><stop offset="0.619" stop-color="rgb(4,4,4)"/><stop offset="0.667" stop-color="rgb(3,3,3)"/><stop offset="0.714" stop-color="rgb(3,3,3)"/><stop offset="0.762" stop-color="rgb(2,2,2)"/><stop offset="0.810" stop-color="rgb(2,2,2)"/><stop offset="0.857" stop-color="rgb(2,2,2)"/><stop offset="0.905" stop-color="rgb(1,1,1)"/><stop offset="0.952" stop-color="rgb(1,1,1)"/><stop offset="1.000" stop-color="rgb(1,1,1)"/></linearGradient><linearGradient id="xr16" gradientUnits="userSpaceOnUse" x1="0" y1="0" x2="42" y2="0" spreadMethod="reflect"><stop offset="0.000" stop-color="rgb(127,127,127)"/><stop offset="0.048" stop-color="rgb(122,122,122)"/><stop offset="0.095" stop-color="rgb(108,108,108)"/><stop offset="0.143" stop-color="rgb(89,89,89)"/><stop offset="0.190" stop-color="rgb(69,69,69)"/><stop offset="0.238" stop-color="rgb(50,50,50)"/><stop offset="0.286" stop-color="rgb(36,36,36)"/><stop offset="0.333" stop-color="rgb(26,26,26)"/><stop offset="0.381" stop-color="rgb(18,18,18)"/><stop offset="0.429" stop-color="rgb(13,13,13)"/><stop offset="0.476" stop-color="rgb(9,9,9)"/><stop offset="0.524" stop-color="rgb(7,7,7)"/><stop offset="0.571" stop-color="rgb(5,5,5)"/><stop offset="0.619" stop-color="rgb(4,4,4)"/><stop offset="0.667" stop-color="rgb(3,3,3)"/><stop offset="0.714" stop-color="rgb(3,3,3)"/><stop offset="0.762" stop-color="rgb(2,2,2)"/><stop offset="0.810" stop-color="rgb(2,2,2)"/><stop offset="0.857" stop-color="rgb(2,2,2)"/><stop offset="0.905" stop-color="rgb(1,1,1)"/><stop offset="0.952" stop-color="rgb(1,1,1)"/><stop offset="1.000" stop-color="rgb(1,1,1)"/></linearGradient><linearGradient id="xr17" gradientUnits="userSpaceOnUse" x1="0" y1="0" x2="42" y2="0" spreadMethod="reflect"><stop offset="0.000" stop-color="rgb(117,117,117)"/><stop offset="0.048" stop-color="rgb(113,113,113)"/><stop offset="0.095" stop-color="rgb(102,102,102)"/><stop offset="0.143" stop-color="rgb(85,85,85)"/><stop offset="0.190" stop-color="rgb(67,67,67)"/><stop offset="0.238" stop-color="rgb(50,50,50)"/><stop offset="0.286" stop-color="rgb(36,36,36)"/><stop offset="0.333" stop-color="rgb(25,25,25)"/><stop offset="0.381" stop-color="rgb(18,18,18)"/><stop offset="0.429" stop-color="rgb(13,13,13)"/><stop offset="0.476" stop-color="rgb(9,9,9)"/><stop offset="0.524" stop-color="rgb(7,7,7)"/><stop offset="0.571" stop-color="rgb(5,5,5)"/><stop offset="0.619" stop-color="rgb(4,4,4)"/><stop offset="0.667" stop-color="rgb(3,3,3)"/><stop offset="0.714" stop-color="rgb(3,3,3)"/><stop offset="0.762" stop-color="rgb(2,2,2)"/><stop offset="0.810" stop-color="rgb(2,2,2)"/><stop offset="0.857" stop-color="rgb(2,2,2)"/><stop offset="0.905" stop-color="rgb(1,1,1)"/><stop offset="0.952" stop-color="rgb(1,1,1)"/><stop offset="1.000" stop-color="rgb(1,1,1)"/></linearGradient><linearGradient id="xr18" gradientUnits="userSpaceOnUse" x1="0" y1="0" x2="42" y2="0" spreadMethod="reflect"><stop offset="0.000" stop-color="rgb(107,107,107)"/><stop offset="0.048" stop-color="rgb(104,104,104)"/><stop offset="0.095" stop-color="rgb(95,95,95)"/><stop offset="0.143" stop-color="rgb(81,81,81)"/><stop offset="0.190" stop-color="rgb(64,64,64)"/><stop offset="0.238" stop-color="rgb(48,48,48)"/><stop offset="0.286" stop-color="rgb(35,35,35)"/><stop offset="0.333" stop-color="rgb(25,25,25)"/><stop offset="0.381" stop-color="rgb(18,18,18)"/><stop offset="0.429" stop-color="rgb(13,13,13)"/><stop offset="0.476" stop-color="rgb(9,9,9)"/><stop offset="0.524" stop-color="rgb(7,7,7)"/><stop offset="0.571" stop-color="rgb(5,5,5)"/><stop offset="0.619" stop-color="rgb(4,4,4)"/><stop offset="0.667" stop-color="rgb(3,3,3)"/><stop offset="0.714" stop-color="rgb(3,3,3)"/><stop offset="0.762" stop-color="rgb(2,2,2)"/><stop offset="0.810" stop-color="rgb(2,2,2)"/><stop offset="0.857" stop-color="rgb(2,2,2)"/><stop offset="0.905" stop-color="rgb(1,1,1)"/><stop offset="0.952" stop-color="rgb(1,1,1)"/><stop offset="1.000" stop-color="rgb(1,1,1)"/></linearGradient><linearGradient id="xr19" gradientUnits="userSpaceOnUse" x1="0" y1="0" x2="42" y2="0" spreadMethod="reflect"><stop offset="0.000" stop-color="rgb(97,97,97)"/><stop offset="0.048" stop-color="rgb(95,95,95)"/><stop offset="0.095" stop-color="rgb(88,88,88)"/><stop offset="0.143" stop-color="rgb(76,76,76)"/><stop offset="0.190" stop-color="rgb(62,62,62)"/><stop offset="0.238" stop-color="rgb(47,47,47)"/><stop offset="0.286" stop-color="rgb(34,34,34)"/><stop offset="0.333" stop-color="rgb(24,24,24)"/><stop offset="0.381" stop-color="rgb(17,17,17)"/><stop offset="0.429" stop-color="rgb(13,13,13)"/><stop offset="0.476" stop-color="rgb(9,9,9)"/><stop offset="0.524" stop-color="rgb(7,7,7)"/><stop offset="0.571" stop-color="rgb(5,5,5)"/><stop offset="0.619" stop-color="rgb(4,4,4)"/><stop offset="0.667" stop-color="rgb(3,3,3)"/><stop offset="0.714" stop-color="rgb(3,3,3)"/><stop offset="0.762" stop-color="rgb(2,2,2)"/><stop offset="0.810" stop-color="rgb(2,2,2)"/><stop offset="0.857" stop-color="rgb(2,2,2)"/><stop offset="0.905" stop-color="rgb(1,1,1)"/><stop offset="0.952" stop-color="rgb(1,1,1)"/><stop offset="1.000" stop-color="rgb(1,1,1)"/></linearGradient><linearGradient id="xr20" gradientUnits="userSpaceOnUse" x1="0" y1="0" x2="42" y2="0" spreadMethod="reflect"><stop offset="0.000" stop-color="rgb(88,88,88)"/><stop offset="0.048" stop-color="rgb(86,86,86)"/><stop offset="0.095" stop-color="rgb(81,81,81)"/><stop offset="0.143" stop-color="rgb(71,71,71)"/><stop offset="0.190" stop-color="rgb(59,59,59)"/><stop offset="0.238" stop-color="rgb(45,45,45)"/><stop offset="0.286" stop-color="rgb(33,33,33)"/><stop offset="0.333" stop-color="rgb(24,24,24)"/><stop offset="0.381" stop-color="rgb(17,17,17)"/><stop offset="0.429" stop-color="rgb(12,12,12)"/><stop offset="0.476" stop-color="rgb(9,9,9)"/><stop offset="0.524" stop-color="rgb(7,7,7)"/><stop offset="0.571" stop-color="rgb(5,5,5)"/><stop offset="0.619" stop-color="rgb(4,4,4)"/><stop offset="0.667" stop-color="rgb(4,4,4)"/><stop offset="0.714" stop-color="rgb(3,3,3)"/><stop offset="0.762" stop-color="rgb(2,2,2)"/><stop offset="0.810" stop-color="rgb(2,2,2)"/><stop offset="0.857" stop-color="rgb(2,2,2)"/><stop offset="0.905" stop-color="rgb(1,1,1)"/><stop offset="0.952" stop-color="rgb(1,1,1)"/><stop offset="1.000" stop-color="rgb(1,1,1)"/></linearGradient><linearGradient id="xr21" gradientUnits="userSpaceOnUse" x1="0" y1="0" x2="42" y2="0" spreadMethod="reflect"><stop offset="0.000" stop-color="rgb(79,79,79)"/><stop offset="0.048" stop-color="rgb(78,78,78)"/><stop offset="0.095" stop-color="rgb(74,74,74)"/><stop offset="0.143" stop-color="rgb(67,67,67)"/><stop offset="0.190" stop-color="rgb(56,56,56)"/><stop offset="0.238" stop-color="rgb(44,44,44)"/><stop offset="0.286" stop-color="rgb(32,32,32)"/><stop offset="0.333" stop-color="rgb(23,23,23)"/><stop offset="0.381" stop-color="rgb(16,16,16)"/><stop offset="0.429" stop-color="rgb(12,12,12)"/><stop offset="0.476" stop-color="rgb(9,9,9)"/><stop offset="0.524" stop-color="rgb(7,7,7)"/><stop offset="0.571" stop-color="rgb(6,6,6)"/><stop offset="0.619" stop-color="rgb(4,4,4)"/><stop offset="0.667" stop-color="rgb(4,4,4)"/><stop offset="0.714" stop-color="rgb(3,3,3)"/><stop offset="0.762" stop-color="rgb(3,3,3)"/><stop offset="0.810" stop-color="rgb(2,2,2)"/><stop offset="0.857" stop-color="rgb(2,2,2)"/><stop offset="0.905" stop-color="rgb(2,2,2)"/><stop offset="0.952" stop-color="rgb(1,1,1)"/><stop offset="1.000" stop-color="rgb(1,1,1)"/></linearGradient><linearGradient id="xr22" gradientUnits="userSpaceOnUse" x1="0" y1="0" x2="42" y2="0" spreadMethod="reflect"><stop offset="0.000" stop-color="rgb(70,70,70)"/><stop offset="0.048" stop-color="rgb(69,69,69)"/><stop offset="0.095" stop-color="rgb(67,67,67)"/><stop offset="0.143" stop-color="rgb(62,62,62)"/><stop offset="0.190" stop-color="rgb(53,53,53)"/><stop offset="0.238" stop-color="rgb(42,42,42)"/><stop offset="0.286" stop-color="rgb(31,31,31)"/><stop offset="0.333" stop-color="rgb(22,22,22)"/><stop offset="0.381" stop-color="rgb(16,16,16)"/><stop offset="0.429" stop-color="rgb(12,12,12)"/><stop offset="0.476" stop-color="rgb(9,9,9)"/><stop offset="0.524" stop-color="rgb(7,7,7)"/><stop offset="0.571" stop-color="rgb(6,6,6)"/><stop offset="0.619" stop-color="rgb(4,4,4)"/><stop offset="0.667" stop-color="rgb(4,4,4)"/><stop offset="0.714" stop-color="rgb(3,3,3)"/><stop offset="0.762" stop-color="rgb(3,3,3)"/><stop offset="0.810" stop-color="rgb(2,2,2)"/><stop offset="0.857" stop-color="rgb(2,2,2)"/><stop offset="0.905" stop-color="rgb(2,2,2)"/><stop offset="0.952" stop-color="rgb(1,1,1)"/><stop offset="1.000" stop-color="rgb(1,1,1)"/></linearGradient><linearGradient id="xr23" gradientUnits="userSpaceOnUse" x1="0" y1="0" x2="42" y2="0" spreadMethod="reflect"><stop offset="0.000" stop-color="rgb(61,61,61)"/><stop offset="0.048" stop-color="rgb(61,61,61)"/><stop offset="0.095" stop-color="rgb(60,60,60)"/><stop offset="0.143" stop-color="rgb(56,56,56)"/><stop offset="0.190" stop-color="rgb(49,49,49)"/><stop offset="0.238" stop-color="rgb(40,40,40)"/><stop offset="0.286" stop-color="rgb(29,29,29)"/><stop offset="0.333" stop-color="rgb(21,21,21)"/><stop offset="0.381" stop-color="rgb(15,15,15)"/><stop offset="0.429" stop-color="rgb(11,11,11)"/><stop offset="0.476" stop-color="rgb(9,9,9)"/><stop offset="0.524" stop-color="rgb(7,7,7)"/><stop offset="0.571" stop-color="rgb(6,6,6)"/><stop offset="0.619" stop-color="rgb(5,5,5)"/><stop offset="0.667" stop-color="rgb(4,4,4)"/><stop offset="0.714" stop-color="rgb(3,3,3)"/><stop offset="0.762" stop-color="rgb(3,3,3)"/><stop offset="0.810" stop-color="rgb(2,2,2)"/><stop offset="0.857" stop-color="rgb(2,2,2)"/><stop offset="0.905" stop-color="rgb(2,2,2)"/><stop offset="0.952" stop-color="rgb(1,1,1)"/><stop offset="1.000" stop-color="rgb(1,1,1)"/></linearGradient><linearGradient id="xr24" gradientUnits="userSpaceOnUse" x1="0" y1="0" x2="42" y2="0" spreadMethod="reflect"><stop offset="0.000" stop-color="rgb(53,53,53)"/><stop offset="0.048" stop-color="rgb(53,53,53)"/><stop offset="0.095" stop-color="rgb(53,53,53)"/><stop offset="0.143" stop-color="rgb(51,51,51)"/><stop offset="0.190" stop-color="rgb(46,46,46)"/><stop offset="0.238" stop-color="rgb(37,37,37)"/><stop offset="0.286" stop-color="rgb(28,28,28)"/><stop offset="0.333" stop-color="rgb(20,20,20)"/><stop offset="0.381" stop-color="rgb(14,14,14)"/><stop offset="0.429" stop-color="rgb(11,11,11)"/><stop offset="0.476" stop-color="rgb(8,8,8)"/><stop offset="0.524" stop-color="rgb(7,7,7)"/><stop offset="0.571" stop-color="rgb(5,5,5)"/><stop offset="0.619" stop-color="rgb(5,5,5)"/><stop offset="0.667" stop-color="rgb(4,4,4)"/><stop offset="0.714" stop-color="rgb(3,3,3)"/><stop offset="0.762" stop-color="rgb(3,3,3)"/><stop offset="0.810" stop-color="rgb(2,2,2)"/><stop offset="0.857" stop-color="rgb(2,2,2)"/><stop offset="0.905" stop-color="rgb(2,2,2)"/><stop offset="0.952" stop-color="rgb(1,1,1)"/><stop offset="1.000" stop-color="rgb(1,1,1)"/></linearGradient><linearGradient id="xr25" gradientUnits="userSpaceOnUse" x1="0" y1="0" x2="42" y2="0" spreadMethod="reflect"><stop offset="0.000" stop-color="rgb(45,45,45)"/><stop offset="0.048" stop-color="rgb(46,46,46)"/><stop offset="0.095" stop-color="rgb(47,47,47)"/><stop offset="0.143" stop-color="rgb(46,46,46)"/><stop offset="0.190" stop-color="rgb(42,42,42)"/><stop offset="0.238" stop-color="rgb(35,35,35)"/><stop offset="0.286" stop-color="rgb(27,27,27)"/><stop offset="0.333" stop-color="rgb(19,19,19)"/><stop offset="0.381" stop-color="rgb(14,14,14)"/><stop offset="0.429" stop-color="rgb(10,10,10)"/><stop offset="0.476" stop-color="rgb(8,8,8)"/><stop offset="0.524" stop-color="rgb(7,7,7)"/><stop offset="0.571" stop-color="rgb(5,5,5)"/><stop offset="0.619" stop-color="rgb(5,5,5)"/><stop offset="0.667" stop-color="rgb(4,4,4)"/><stop offset="0.714" stop-color="rgb(3,3,3)"/><stop offset="0.762" stop-color="rgb(3,3,3)"/><stop offset="0.810" stop-color="rgb(2,2,2)"/><stop offset="0.857" stop-color="rgb(2,2,2)"/><stop offset="0.905" stop-color="rgb(2,2,2)"/><stop offset="0.952" stop-color="rgb(1,1,1)"/><stop offset="1.000" stop-color="rgb(1,1,1)"/></linearGradient><linearGradient id="xr26" gradientUnits="userSpaceOnUse" x1="0" y1="0" x2="42" y2="0" spreadMethod="reflect"><stop offset="0.000" stop-color="rgb(38,38,38)"/><stop offset="0.048" stop-color="rgb(39,39,39)"/><stop offset="0.095" stop-color="rgb(41,41,41)"/><stop offset="0.143" stop-color="rgb(41,41,41)"/><stop offset="0.190" stop-color="rgb(39,39,39)"/><stop offset="0.238" stop-color="rgb(33,33,33)"/><stop offset="0.286" stop-color="rgb(25,25,25)"/><stop offset="0.333" stop-color="rgb(18,18,18)"/><stop offset="0.381" stop-color="rgb(13,13,13)"/><stop offset="0.429" stop-color="rgb(10,10,10)"/><stop offset="0.476" stop-color="rgb(8,8,8)"/><stop offset="0.524" stop-color="rgb(6,6,6)"/><stop offset="0.571" stop-color="rgb(5,5,5)"/><stop offset="0.619" stop-color="rgb(5,5,5)"/><stop offset="0.667" stop-color="rgb(4,4,4)"/><stop offset="0.714" stop-color="rgb(3,3,3)"/><stop offset="0.762" stop-color="rgb(3,3,3)"/><stop offset="0.810" stop-color="rgb(2,2,2)"/><stop offset="0.857" stop-color="rgb(2,2,2)"/><stop offset="0.905" stop-color="rgb(2,2,2)"/><stop offset="0.952" stop-color="rgb(1,1,1)"/><stop offset="1.000" stop-color="rgb(1,1,1)"/></linearGradient><linearGradient id="xr27" gradientUnits="userSpaceOnUse" x1="0" y1="0" x2="42" y2="0" spreadMethod="reflect"><stop offset="0.000" stop-color="rgb(32,32,32)"/><stop offset="0.048" stop-color="rgb(33,33,33)"/><stop offset="0.095" stop-color="rgb(35,35,35)"/><stop offset="0.143" stop-color="rgb(37,37,37)"/><stop offset="0.190" stop-color="rgb(36,36,36)"/><stop offset="0.238" stop-color="rgb(31,31,31)"/><stop offset="0.286" stop-color="rgb(24,24,24)"/><stop offset="0.333" stop-color="rgb(18,18,18)"/><stop offset="0.381" stop-color="rgb(13,13,13)"/><stop offset="0.429" stop-color="rgb(9,9,9)"/><stop offset="0.476" stop-color="rgb(8,8,8)"/><stop offset="0.524" stop-color="rgb(6,6,6)"/><stop offset="0.571" stop-color="rgb(5,5,5)"/><stop offset="0.619" stop-color="rgb(5,5,5)"/><stop offset="0.667" stop-color="rgb(4,4,4)"/><stop offset="0.714" stop-color="rgb(3,3,3)"/><stop offset="0.762" stop-color="rgb(3,3,3)"/><stop offset="0.810" stop-color="rgb(2,2,2)"/><stop offset="0.857" stop-color="rgb(2,2,2)"/><stop offset="0.905" stop-color="rgb(2,2,2)"/><stop offset="0.952" stop-color="rgb(1,1,1)"/><stop offset="1.000" stop-color="rgb(1,1,1)"/></linearGradient><linearGradient id="xr28" gradientUnits="userSpaceOnUse" x1="0" y1="0" x2="42" y2="0" spreadMethod="reflect"><stop offset="0.000" stop-color="rgb(26,26,26)"/><stop offset="0.048" stop-color="rgb(27,27,27)"/><stop offset="0.095" stop-color="rgb(30,30,30)"/><stop offset="0.143" stop-color="rgb(33,33,33)"/><stop offset="0.190" stop-color="rgb(33,33,33)"/><stop offset="0.238" stop-color="rgb(30,30,30)"/><stop offset="0.286" stop-color="rgb(23,23,23)"/><stop offset="0.333" stop-color="rgb(17,17,17)"/><stop offset="0.381" stop-color="rgb(12,12,12)"/><stop offset="0.429" stop-color="rgb(9,9,9)"/><stop offset="0.476" stop-color="rgb(7,7,7)"/><stop offset="0.524" stop-color="rgb(6,6,6)"/><stop offset="0.571" stop-color="rgb(5,5,5)"/><stop offset="0.619" stop-color="rgb(5,5,5)"/><stop offset="0.667" stop-color="rgb(4,4,4)"/><stop offset="0.714" stop-color="rgb(4,4,4)"/><stop offset="0.762" stop-color="rgb(3,3,3)"/><stop offset="0.810" stop-color="rgb(3,3,3)"/><stop offset="0.857" stop-color="rgb(2,2,2)"/><stop offset="0.905" stop-color="rgb(2,2,2)"/><stop offset="0.952" stop-color="rgb(1,1,1)"/><stop offset="1.000" stop-color="rgb(1,1,1)"/></linearGradient><linearGradient id="xr29" gradientUnits="userSpaceOnUse" x1="0" y1="0" x2="42" y2="0" spreadMethod="reflect"><stop offset="0.000" stop-color="rgb(22,22,22)"/><stop offset="0.048" stop-color="rgb(23,23,23)"/><stop offset="0.095" stop-color="rgb(26,26,26)"/><stop offset="0.143" stop-color="rgb(30,30,30)"/><stop offset="0.190" stop-color="rgb(31,31,31)"/><stop offset="0.238" stop-color="rgb(28,28,28)"/><stop offset="0.286" stop-color="rgb(23,23,23)"/><stop offset="0.333" stop-color="rgb(17,17,17)"/><stop offset="0.381" stop-color="rgb(12,12,12)"/><stop offset="0.429" stop-color="rgb(9,9,9)"/><stop offset="0.476" stop-color="rgb(7,7,7)"/><stop offset="0.524" stop-color="rgb(6,6,6)"/><stop offset="0.571" stop-color="rgb(6,6,6)"/><stop offset="0.619" stop-color="rgb(5,5,5)"/><stop offset="0.667" stop-color="rgb(4,4,4)"/><stop offset="0.714" stop-color="rgb(4,4,4)"/><stop offset="0.762" stop-color="rgb(3,3,3)"/><stop offset="0.810" stop-color="rgb(3,3,3)"/><stop offset="0.857" stop-color="rgb(2,2,2)"/><stop offset="0.905" stop-color="rgb(2,2,2)"/><stop offset="0.952" stop-color="rgb(2,2,2)"/><stop offset="1.000" stop-color="rgb(1,1,1)"/></linearGradient><linearGradient id="xr30" gradientUnits="userSpaceOnUse" x1="0" y1="0" x2="42" y2="0" spreadMethod="reflect"><stop offset="0.000" stop-color="rgb(18,18,18)"/><stop offset="0.048" stop-color="rgb(19,19,19)"/><stop offset="0.095" stop-color="rgb(23,23,23)"/><stop offset="0.143" stop-color="rgb(27,27,27)"/><stop offset="0.190" stop-color="rgb(29,29,29)"/><stop offset="0.238" stop-color="rgb(27,27,27)"/><stop offset="0.286" stop-color="rgb(22,22,22)"/><stop offset="0.333" stop-color="rgb(17,17,17)"/><stop offset="0.381" stop-color="rgb(12,12,12)"/><stop offset="0.429" stop-color="rgb(9,9,9)"/><stop offset="0.476" stop-color="rgb(7,7,7)"/><stop offset="0.524" stop-color="rgb(6,6,6)"/><stop offset="0.571" stop-color="rgb(6,6,6)"/><stop offset="0.619" stop-color="rgb(5,5,5)"/><stop offset="0.667" stop-color="rgb(4,4,4)"/><stop offset="0.714" stop-color="rgb(4,4,4)"/><stop offset="0.762" stop-color="rgb(3,3,3)"/><stop offset="0.810" stop-color="rgb(3,3,3)"/><stop offset="0.857" stop-color="rgb(2,2,2)"/><stop offset="0.905" stop-color="rgb(2,2,2)"/><stop offset="0.952" stop-color="rgb(2,2,2)"/><stop offset="1.000" stop-color="rgb(1,1,1)"/></linearGradient><linearGradient id="xr31" gradientUnits="userSpaceOnUse" x1="0" y1="0" x2="42" y2="0" spreadMethod="reflect"><stop offset="0.000" stop-color="rgb(15,15,15)"/><stop offset="0.048" stop-color="rgb(17,17,17)"/><stop offset="0.095" stop-color="rgb(20,20,20)"/><stop offset="0.143" stop-color="rgb(24,24,24)"/><stop offset="0.190" stop-color="rgb(27,27,27)"/><stop offset="0.238" stop-color="rgb(26,26,26)"/><stop offset="0.286" stop-color="rgb(22,22,22)"/><stop offset="0.333" stop-color="rgb(17,17,17)"/><stop offset="0.381" stop-color="rgb(12,12,12)"/><stop offset="0.429" stop-color="rgb(9,9,9)"/><stop offset="0.476" stop-color="rgb(7,7,7)"/><stop offset="0.524" stop-color="rgb(6,6,6)"/><stop offset="0.571" stop-color="rgb(6,6,6)"/><stop offset="0.619" stop-color="rgb(5,5,5)"/><stop offset="0.667" stop-color="rgb(4,4,4)"/><stop offset="0.714" stop-color="rgb(4,4,4)"/><stop offset="0.762" stop-color="rgb(3,3,3)"/><stop offset="0.810" stop-color="rgb(3,3,3)"/><stop offset="0.857" stop-color="rgb(2,2,2)"/><stop offset="0.905" stop-color="rgb(2,2,2)"/><stop offset="0.952" stop-color="rgb(2,2,2)"/><stop offset="1.000" stop-color="rgb(1,1,1)"/></linearGradient><linearGradient id="xr32" gradientUnits="userSpaceOnUse" x1="0" y1="0" x2="42" y2="0" spreadMethod="reflect"><stop offset="0.000" stop-color="rgb(13,13,13)"/><stop offset="0.048" stop-color="rgb(15,15,15)"/><stop offset="0.095" stop-color="rgb(18,18,18)"/><stop offset="0.143" stop-color="rgb(23,23,23)"/><stop offset="0.190" stop-color="rgb(26,26,26)"/><stop offset="0.238" stop-color="rgb(25,25,25)"/><stop offset="0.286" stop-color="rgb(22,22,22)"/><stop offset="0.333" stop-color="rgb(17,17,17)"/><stop offset="0.381" stop-color="rgb(12,12,12)"/><stop offset="0.429" stop-color="rgb(9,9,9)"/><stop offset="0.476" stop-color="rgb(7,7,7)"/><stop offset="0.524" stop-color="rgb(6,6,6)"/><stop offset="0.571" stop-color="rgb(6,6,6)"/><stop offset="0.619" stop-color="rgb(5,5,5)"/><stop offset="0.667" stop-color="rgb(4,4,4)"/><stop offset="0.714" stop-color="rgb(4,4,4)"/><stop offset="0.762" stop-color="rgb(3,3,3)"/><stop offset="0.810" stop-color="rgb(3,3,3)"/><stop offset="0.857" stop-color="rgb(2,2,2)"/><stop offset="0.905" stop-color="rgb(2,2,2)"/><stop offset="0.952" stop-color="rgb(2,2,2)"/><stop offset="1.000" stop-color="rgb(1,1,1)"/></linearGradient><linearGradient id="xr33" gradientUnits="userSpaceOnUse" x1="0" y1="0" x2="42" y2="0" spreadMethod="reflect"><stop offset="0.000" stop-color="rgb(12,12,12)"/><stop offset="0.048" stop-color="rgb(13,13,13)"/><stop offset="0.095" stop-color="rgb(16,16,16)"/><stop offset="0.143" stop-color="rgb(21,21,21)"/><stop offset="0.190" stop-color="rgb(24,24,24)"/><stop offset="0.238" stop-color="rgb(25,25,25)"/><stop offset="0.286" stop-color="rgb(22,22,22)"/><stop offset="0.333" stop-color="rgb(17,17,17)"/><stop offset="0.381" stop-color="rgb(13,13,13)"/><stop offset="0.429" stop-color="rgb(9,9,9)"/><stop offset="0.476" stop-color="rgb(8,8,8)"/><stop offset="0.524" stop-color="rgb(6,6,6)"/><stop offset="0.571" stop-color="rgb(6,6,6)"/><stop offset="0.619" stop-color="rgb(5,5,5)"/><stop offset="0.667" stop-color="rgb(4,4,4)"/><stop offset="0.714" stop-color="rgb(4,4,4)"/><stop offset="0.762" stop-color="rgb(3,3,3)"/><stop offset="0.810" stop-color="rgb(3,3,3)"/><stop offset="0.857" stop-color="rgb(2,2,2)"/><stop offset="0.905" stop-color="rgb(2,2,2)"/><stop offset="0.952" stop-color="rgb(2,2,2)"/><stop offset="1.000" stop-color="rgb(1,1,1)"/></linearGradient><linearGradient id="xr34" gradientUnits="userSpaceOnUse" x1="0" y1="0" x2="42" y2="0" spreadMethod="reflect"><stop offset="0.000" stop-color="rgb(10,10,10)"/><stop offset="0.048" stop-color="rgb(12,12,12)"/><stop offset="0.095" stop-color="rgb(15,15,15)"/><stop offset="0.143" stop-color="rgb(20,20,20)"/><stop offset="0.190" stop-color="rgb(23,23,23)"/><stop offset="0.238" stop-color="rgb(24,24,24)"/><stop offset="0.286" stop-color="rgb(22,22,22)"/><stop offset="0.333" stop-color="rgb(17,17,17)"/><stop offset="0.381" stop-color="rgb(13,13,13)"/><stop offset="0.429" stop-color="rgb(10,10,10)"/><stop offset="0.476" stop-color="rgb(8,8,8)"/><stop offset="0.524" stop-color="rgb(7,7,7)"/><stop offset="0.571" stop-color="rgb(6,6,6)"/><stop offset="0.619" stop-color="rgb(5,5,5)"/><stop offset="0.667" stop-color="rgb(5,5,5)"/><stop offset="0.714" stop-color="rgb(4,4,4)"/><stop offset="0.762" stop-color="rgb(3,3,3)"/><stop offset="0.810" stop-color="rgb(3,3,3)"/><stop offset="0.857" stop-color="rgb(2,2,2)"/><stop offset="0.905" stop-color="rgb(2,2,2)"/><stop offset="0.952" stop-color="rgb(2,2,2)"/><stop offset="1.000" stop-color="rgb(1,1,1)"/></linearGradient><linearGradient id="xr35" gradientUnits="userSpaceOnUse" x1="0" y1="0" x2="42" y2="0" spreadMethod="reflect"><stop offset="0.000" stop-color="rgb(10,10,10)"/><stop offset="0.048" stop-color="rgb(11,11,11)"/><stop offset="0.095" stop-color="rgb(14,14,14)"/><stop offset="0.143" stop-color="rgb(18,18,18)"/><stop offset="0.190" stop-color="rgb(22,22,22)"/><stop offset="0.238" stop-color="rgb(24,24,24)"/><stop offset="0.286" stop-color="rgb(22,22,22)"/><stop offset="0.333" stop-color="rgb(18,18,18)"/><stop offset="0.381" stop-color="rgb(13,13,13)"/><stop offset="0.429" stop-color="rgb(10,10,10)"/><stop offset="0.476" stop-color="rgb(8,8,8)"/><stop offset="0.524" stop-color="rgb(7,7,7)"/><stop offset="0.571" stop-color="rgb(6,6,6)"/><stop offset="0.619" stop-color="rgb(5,5,5)"/><stop offset="0.667" stop-color="rgb(5,5,5)"/><stop offset="0.714" stop-color="rgb(4,4,4)"/><stop offset="0.762" stop-color="rgb(3,3,3)"/><stop offset="0.810" stop-color="rgb(3,3,3)"/><stop offset="0.857" stop-color="rgb(2,2,2)"/><stop offset="0.905" stop-color="rgb(2,2,2)"/><stop offset="0.952" stop-color="rgb(2,2,2)"/><stop offset="1.000" stop-color="rgb(1,1,1)"/></linearGradient><linearGradient id="xr36" gradientUnits="userSpaceOnUse" x1="0" y1="0" x2="42" y2="0" spreadMethod="reflect"><stop offset="0.000" stop-color="rgb(9,9,9)"/><stop offset="0.048" stop-color="rgb(10,10,10)"/><stop offset="0.095" stop-color="rgb(13,13,13)"/><stop offset="0.143" stop-color="rgb(17,17,17)"/><stop offset="0.190" stop-color="rgb(22,22,22)"/><stop offset="0.238" stop-color="rgb(23,23,23)"/><stop offset="0.286" stop-color="rgb(22,22,22)"/><stop offset="0.333" stop-color="rgb(18,18,18)"/><stop offset="0.381" stop-color="rgb(14,14,14)"/><stop offset="0.429" stop-color="rgb(10,10,10)"/><stop offset="0.476" stop-color="rgb(8,8,8)"/><stop offset="0.524" stop-color="rgb(7,7,7)"/><stop offset="0.571" stop-color="rgb(6,6,6)"/><stop offset="0.619" stop-color="rgb(5,5,5)"/><stop offset="0.667" stop-color="rgb(5,5,5)"/><stop offset="0.714" stop-color="rgb(4,4,4)"/><stop offset="0.762" stop-color="rgb(4,4,4)"/><stop offset="0.810" stop-color="rgb(3,3,3)"/><stop offset="0.857" stop-color="rgb(3,3,3)"/><stop offset="0.905" stop-color="rgb(2,2,2)"/><stop offset="0.952" stop-color="rgb(2,2,2)"/><stop offset="1.000" stop-color="rgb(1,1,1)"/></linearGradient><linearGradient id="xr37" gradientUnits="userSpaceOnUse" x1="0" y1="0" x2="42" y2="0" spreadMethod="reflect"><stop offset="0.000" stop-color="rgb(8,8,8)"/><stop offset="0.048" stop-color="rgb(9,9,9)"/><stop offset="0.095" stop-color="rgb(12,12,12)"/><stop offset="0.143" stop-color="rgb(16,16,16)"/><stop offset="0.190" stop-color="rgb(21,21,21)"/><stop offset="0.238" stop-color="rgb(23,23,23)"/><stop offset="0.286" stop-color="rgb(22,22,22)"/><stop offset="0.333" stop-color="rgb(18,18,18)"/><stop offset="0.381" stop-color="rgb(14,14,14)"/><stop offset="0.429" stop-color="rgb(10,10,10)"/><stop offset="0.476" stop-color="rgb(8,8,8)"/><stop offset="0.524" stop-color="rgb(7,7,7)"/><stop offset="0.571" stop-color="rgb(6,6,6)"/><stop offset="0.619" stop-color="rgb(5,5,5)"/><stop offset="0.667" stop-color="rgb(5,5,5)"/><stop offset="0.714" stop-color="rgb(4,4,4)"/><stop offset="0.762" stop-color="rgb(4,4,4)"/><stop offset="0.810" stop-color="rgb(3,3,3)"/><stop offset="0.857" stop-color="rgb(3,3,3)"/><stop offset="0.905" stop-color="rgb(2,2,2)"/><stop offset="0.952" stop-color="rgb(2,2,2)"/><stop offset="1.000" stop-color="rgb(1,1,1)"/></linearGradient><linearGradient id="xr38" gradientUnits="userSpaceOnUse" x1="0" y1="0" x2="42" y2="0" spreadMethod="reflect"><stop offset="0.000" stop-color="rgb(8,8,8)"/><stop offset="0.048" stop-color="rgb(9,9,9)"/><stop offset="0.095" stop-color="rgb(11,11,11)"/><stop offset="0.143" stop-color="rgb(16,16,16)"/><stop offset="0.190" stop-color="rgb(20,20,20)"/><stop offset="0.238" stop-color="rgb(22,22,22)"/><stop offset="0.286" stop-color="rgb(22,22,22)"/><stop offset="0.333" stop-color="rgb(19,19,19)"/><stop offset="0.381" stop-color="rgb(14,14,14)"/><stop offset="0.429" stop-color="rgb(11,11,11)"/><stop offset="0.476" stop-color="rgb(8,8,8)"/><stop offset="0.524" stop-color="rgb(7,7,7)"/><stop offset="0.571" stop-color="rgb(6,6,6)"/><stop offset="0.619" stop-color="rgb(5,5,5)"/><stop offset="0.667" stop-color="rgb(5,5,5)"/><stop offset="0.714" stop-color="rgb(4,4,4)"/><stop offset="0.762" stop-color="rgb(4,4,4)"/><stop offset="0.810" stop-color="rgb(3,3,3)"/><stop offset="0.857" stop-color="rgb(3,3,3)"/><stop offset="0.905" stop-color="rgb(2,2,2)"/><stop offset="0.952" stop-color="rgb(2,2,2)"/><stop offset="1.000" stop-color="rgb(1,1,1)"/></linearGradient><linearGradient id="xr39" gradientUnits="userSpaceOnUse" x1="0" y1="0" x2="42" y2="0" spreadMethod="reflect"><stop offset="0.000" stop-color="rgb(8,8,8)"/><stop offset="0.048" stop-color="rgb(8,8,8)"/><stop offset="0.095" stop-color="rgb(11,11,11)"/><stop offset="0.143" stop-color="rgb(15,15,15)"/><stop offset="0.190" stop-color="rgb(19,19,19)"/><stop offset="0.238" stop-color="rgb(22,22,22)"/><stop offset="0.286" stop-color="rgb(22,22,22)"/><stop offset="0.333" stop-color="rgb(19,19,19)"/><stop offset="0.381" stop-color="rgb(15,15,15)"/><stop offset="0.429" stop-color="rgb(11,11,11)"/><stop offset="0.476" stop-color="rgb(9,9,9)"/><stop offset="0.524" stop-color="rgb(7,7,7)"/><stop offset="0.571" stop-color="rgb(6,6,6)"/><stop offset="0.619" stop-color="rgb(6,6,6)"/><stop offset="0.667" stop-color="rgb(5,5,5)"/><stop offset="0.714" stop-color="rgb(4,4,4)"/><stop offset="0.762" stop-color="rgb(4,4,4)"/><stop offset="0.810" stop-color="rgb(3,3,3)"/><stop offset="0.857" stop-color="rgb(3,3,3)"/><stop offset="0.905" stop-color="rgb(2,2,2)"/><stop offset="0.952" stop-color="rgb(2,2,2)"/><stop offset="1.000" stop-color="rgb(2,2,2)"/></linearGradient><linearGradient id="xr40" gradientUnits="userSpaceOnUse" x1="0" y1="0" x2="42" y2="0" spreadMethod="reflect"><stop offset="0.000" stop-color="rgb(7,7,7)"/><stop offset="0.048" stop-color="rgb(8,8,8)"/><stop offset="0.095" stop-color="rgb(10,10,10)"/><stop offset="0.143" stop-color="rgb(14,14,14)"/><stop offset="0.190" stop-color="rgb(18,18,18)"/><stop offset="0.238" stop-color="rgb(21,21,21)"/><stop offset="0.286" stop-color="rgb(22,22,22)"/><stop offset="0.333" stop-color="rgb(19,19,19)"/><stop offset="0.381" stop-color="rgb(15,15,15)"/><stop offset="0.429" stop-color="rgb(11,11,11)"/><stop offset="0.476" stop-color="rgb(9,9,9)"/><stop offset="0.524" stop-color="rgb(7,7,7)"/><stop offset="0.571" stop-color="rgb(6,6,6)"/><stop offset="0.619" stop-color="rgb(6,6,6)"/><stop offset="0.667" stop-color="rgb(5,5,5)"/><stop offset="0.714" stop-color="rgb(4,4,4)"/><stop offset="0.762" stop-color="rgb(4,4,4)"/><stop offset="0.810" stop-color="rgb(3,3,3)"/><stop offset="0.857" stop-color="rgb(3,3,3)"/><stop offset="0.905" stop-color="rgb(2,2,2)"/><stop offset="0.952" stop-color="rgb(2,2,2)"/><stop offset="1.000" stop-color="rgb(2,2,2)"/></linearGradient><linearGradient id="xr41" gradientUnits="userSpaceOnUse" x1="0" y1="0" x2="42" y2="0" spreadMethod="reflect"><stop offset="0.000" stop-color="rgb(7,7,7)"/><stop offset="0.048" stop-color="rgb(8,8,8)"/><stop offset="0.095" stop-color="rgb(10,10,10)"/><stop offset="0.143" stop-color="rgb(13,13,13)"/><stop offset="0.190" stop-color="rgb(17,17,17)"/><stop offset="0.238" stop-color="rgb(21,21,21)"/><stop offset="0.286" stop-color="rgb(21,21,21)"/><stop offset="0.333" stop-color="rgb(19,19,19)"/><stop offset="0.381" stop-color="rgb(15,15,15)"/><stop offset="0.429" stop-color="rgb(12,12,12)"/><stop offset="0.476" stop-color="rgb(9,9,9)"/><stop offset="0.524" stop-color="rgb(7,7,7)"/><stop offset="0.571" stop-color="rgb(6,6,6)"/><stop offset="0.619" stop-color="rgb(6,6,6)"/><stop offset="0.667" stop-color="rgb(5,5,5)"/><stop offset="0.714" stop-color="rgb(4,4,4)"/><stop offset="0.762" stop-color="rgb(4,4,4)"/><stop offset="0.810" stop-color="rgb(3,3,3)"/><stop offset="0.857" stop-color="rgb(3,3,3)"/><stop offset="0.905" stop-color="rgb(2,2,2)"/><stop offset="0.952" stop-color="rgb(2,2,2)"/><stop offset="1.000" stop-color="rgb(2,2,2)"/></linearGradient><linearGradient id="xr42" gradientUnits="userSpaceOnUse" x1="0" y1="0" x2="42" y2="0" spreadMethod="reflect"><stop offset="0.000" stop-color="rgb(7,7,7)"/><stop offset="0.048" stop-color="rgb(7,7,7)"/><stop offset="0.095" stop-color="rgb(9,9,9)"/><stop offset="0.143" stop-color="rgb(12,12,12)"/><stop offset="0.190" stop-color="rgb(16,16,16)"/><stop offset="0.238" stop-color="rgb(20,20,20)"/><stop offset="0.286" stop-color="rgb(21,21,21)"/><stop offset="0.333" stop-color="rgb(19,19,19)"/><stop offset="0.381" stop-color="rgb(16,16,16)"/><stop offset="0.429" stop-color="rgb(12,12,12)"/><stop offset="0.476" stop-color="rgb(9,9,9)"/><stop offset="0.524" stop-color="rgb(8,8,8)"/><stop offset="0.571" stop-color="rgb(7,7,7)"/><stop offset="0.619" stop-color="rgb(6,6,6)"/><stop offset="0.667" stop-color="rgb(5,5,5)"/><stop offset="0.714" stop-color="rgb(5,5,5)"/><stop offset="0.762" stop-color="rgb(4,4,4)"/><stop offset="0.810" stop-color="rgb(3,3,3)"/><stop offset="0.857" stop-color="rgb(3,3,3)"/><stop offset="0.905" stop-color="rgb(2,2,2)"/><stop offset="0.952" stop-color="rgb(2,2,2)"/><stop offset="1.000" stop-color="rgb(2,2,2)"/></linearGradient><linearGradient id="xr43" gradientUnits="userSpaceOnUse" x1="0" y1="0" x2="42" y2="0" spreadMethod="reflect"><stop offset="0.000" stop-color="rgb(6,6,6)"/><stop offset="0.048" stop-color="rgb(7,7,7)"/><stop offset="0.095" stop-color="rgb(9,9,9)"/><stop offset="0.143" stop-color="rgb(12,12,12)"/><stop offset="0.190" stop-color="rgb(16,16,16)"/><stop offset="0.238" stop-color="rgb(19,19,19)"/><stop offset="0.286" stop-color="rgb(21,21,21)"/><stop offset="0.333" stop-color="rgb(19,19,19)"/><stop offset="0.381" stop-color="rgb(16,16,16)"/><stop offset="0.429" stop-color="rgb(12,12,12)"/><stop offset="0.476" stop-color="rgb(9,9,9)"/><stop offset="0.524" stop-color="rgb(8,8,8)"/><stop offset="0.571" stop-color="rgb(7,7,7)"/><stop offset="0.619" stop-color="rgb(6,6,6)"/><stop offset="0.667" stop-color="rgb(5,5,5)"/><stop offset="0.714" stop-color="rgb(5,5,5)"/><stop offset="0.762" stop-color="rgb(4,4,4)"/><stop offset="0.810" stop-color="rgb(3,3,3)"/><stop offset="0.857" stop-color="rgb(3,3,3)"/><stop offset="0.905" stop-color="rgb(2,2,2)"/><stop offset="0.952" stop-color="rgb(2,2,2)"/><stop offset="1.000" stop-color="rgb(2,2,2)"/></linearGradient><linearGradient id="xr44" gradientUnits="userSpaceOnUse" x1="0" y1="0" x2="42" y2="0" spreadMethod="reflect"><stop offset="0.000" stop-color="rgb(6,6,6)"/><stop offset="0.048" stop-color="rgb(7,7,7)"/><stop offset="0.095" stop-color="rgb(8,8,8)"/><stop offset="0.143" stop-color="rgb(11,11,11)"/><stop offset="0.190" stop-color="rgb(15,15,15)"/><stop offset="0.238" stop-color="rgb(19,19,19)"/><stop offset="0.286" stop-color="rgb(20,20,20)"/><stop offset="0.333" stop-color="rgb(19,19,19)"/><stop offset="0.381" stop-color="rgb(16,16,16)"/><stop offset="0.429" stop-color="rgb(13,13,13)"/><stop offset="0.476" stop-color="rgb(10,10,10)"/><stop offset="0.524" stop-color="rgb(8,8,8)"/><stop offset="0.571" stop-color="rgb(7,7,7)"/><stop offset="0.619" stop-color="rgb(6,6,6)"/><stop offset="0.667" stop-color="rgb(5,5,5)"/><stop offset="0.714" stop-color="rgb(5,5,5)"/><stop offset="0.762" stop-color="rgb(4,4,4)"/><stop offset="0.810" stop-color="rgb(3,3,3)"/><stop offset="0.857" stop-color="rgb(3,3,3)"/><stop offset="0.905" stop-color="rgb(2,2,2)"/><stop offset="0.952" stop-color="rgb(2,2,2)"/><stop offset="1.000" stop-color="rgb(2,2,2)"/></linearGradient><linearGradient id="xr45" gradientUnits="userSpaceOnUse" x1="0" y1="0" x2="42" y2="0" spreadMethod="reflect"><stop offset="0.000" stop-color="rgb(6,6,6)"/><stop offset="0.048" stop-color="rgb(6,6,6)"/><stop offset="0.095" stop-color="rgb(8,8,8)"/><stop offset="0.143" stop-color="rgb(10,10,10)"/><stop offset="0.190" stop-color="rgb(14,14,14)"/><stop offset="0.238" stop-color="rgb(18,18,18)"/><stop offset="0.286" stop-color="rgb(20,20,20)"/><stop offset="0.333" stop-color="rgb(19,19,19)"/><stop offset="0.381" stop-color="rgb(17,17,17)"/><stop offset="0.429" stop-color="rgb(13,13,13)"/><stop offset="0.476" stop-color="rgb(10,10,10)"/><stop offset="0.524" stop-color="rgb(8,8,8)"/><stop offset="0.571" stop-color="rgb(7,7,7)"/><stop offset="0.619" stop-color="rgb(6,6,6)"/><stop offset="0.667" stop-color="rgb(5,5,5)"/><stop offset="0.714" stop-color="rgb(5,5,5)"/><stop offset="0.762" stop-color="rgb(4,4,4)"/><stop offset="0.810" stop-color="rgb(4,4,4)"/><stop offset="0.857" stop-color="rgb(3,3,3)"/><stop offset="0.905" stop-color="rgb(2,2,2)"/><stop offset="0.952" stop-color="rgb(2,2,2)"/><stop offset="1.000" stop-color="rgb(2,2,2)"/></linearGradient><linearGradient id="xr46" gradientUnits="userSpaceOnUse" x1="0" y1="0" x2="42" y2="0" spreadMethod="reflect"><stop offset="0.000" stop-color="rgb(6,6,6)"/><stop offset="0.048" stop-color="rgb(6,6,6)"/><stop offset="0.095" stop-color="rgb(7,7,7)"/><stop offset="0.143" stop-color="rgb(10,10,10)"/><stop offset="0.190" stop-color="rgb(13,13,13)"/><stop offset="0.238" stop-color="rgb(17,17,17)"/><stop offset="0.286" stop-color="rgb(19,19,19)"/><stop offset="0.333" stop-color="rgb(19,19,19)"/><stop offset="0.381" stop-color="rgb(17,17,17)"/><stop offset="0.429" stop-color="rgb(13,13,13)"/><stop offset="0.476" stop-color="rgb(10,10,10)"/><stop offset="0.524" stop-color="rgb(8,8,8)"/><stop offset="0.571" stop-color="rgb(7,7,7)"/><stop offset="0.619" stop-color="rgb(6,6,6)"/><stop offset="0.667" stop-color="rgb(5,5,5)"/><stop offset="0.714" stop-color="rgb(5,5,5)"/><stop offset="0.762" stop-color="rgb(4,4,4)"/><stop offset="0.810" stop-color="rgb(4,4,4)"/><stop offset="0.857" stop-color="rgb(3,3,3)"/><stop offset="0.905" stop-color="rgb(3,3,3)"/><stop offset="0.952" stop-color="rgb(2,2,2)"/><stop offset="1.000" stop-color="rgb(2,2,2)"/></linearGradient><linearGradient id="xr47" gradientUnits="userSpaceOnUse" x1="0" y1="0" x2="42" y2="0" spreadMethod="reflect"><stop offset="0.000" stop-color="rgb(6,6,6)"/><stop offset="0.048" stop-color="rgb(6,6,6)"/><stop offset="0.095" stop-color="rgb(7,7,7)"/><stop offset="0.143" stop-color="rgb(9,9,9)"/><stop offset="0.190" stop-color="rgb(13,13,13)"/><stop offset="0.238" stop-color="rgb(16,16,16)"/><stop offset="0.286" stop-color="rgb(19,19,19)"/><stop offset="0.333" stop-color="rgb(19,19,19)"/><stop offset="0.381" stop-color="rgb(17,17,17)"/><stop offset="0.429" stop-color="rgb(14,14,14)"/><stop offset="0.476" stop-color="rgb(10,10,10)"/><stop offset="0.524" stop-color="rgb(8,8,8)"/><stop offset="0.571" stop-color="rgb(7,7,7)"/><stop offset="0.619" stop-color="rgb(6,6,6)"/><stop offset="0.667" stop-color="rgb(6,6,6)"/><stop offset="0.714" stop-color="rgb(5,5,5)"/><stop offset="0.762" stop-color="rgb(4,4,4)"/><stop offset="0.810" stop-color="rgb(4,4,4)"/><stop offset="0.857" stop-color="rgb(3,3,3)"/><stop offset="0.905" stop-color="rgb(3,3,3)"/><stop offset="0.952" stop-color="rgb(2,2,2)"/><stop offset="1.000" stop-color="rgb(2,2,2)"/></linearGradient><linearGradient id="xr48" gradientUnits="userSpaceOnUse" x1="0" y1="0" x2="42" y2="0" spreadMethod="reflect"><stop offset="0.000" stop-color="rgb(6,6,6)"/><stop offset="0.048" stop-color="rgb(6,6,6)"/><stop offset="0.095" stop-color="rgb(7,7,7)"/><stop offset="0.143" stop-color="rgb(9,9,9)"/><stop offset="0.190" stop-color="rgb(12,12,12)"/><stop offset="0.238" stop-color="rgb(16,16,16)"/><stop offset="0.286" stop-color="rgb(18,18,18)"/><stop offset="0.333" stop-color="rgb(19,19,19)"/><stop offset="0.381" stop-color="rgb(17,17,17)"/><stop offset="0.429" stop-color="rgb(14,14,14)"/><stop offset="0.476" stop-color="rgb(11,11,11)"/><stop offset="0.524" stop-color="rgb(8,8,8)"/><stop offset="0.571" stop-color="rgb(7,7,7)"/><stop offset="0.619" stop-color="rgb(6,6,6)"/><stop offset="0.667" stop-color="rgb(6,6,6)"/><stop offset="0.714" stop-color="rgb(5,5,5)"/><stop offset="0.762" stop-color="rgb(4,4,4)"/><stop offset="0.810" stop-color="rgb(4,4,4)"/><stop offset="0.857" stop-color="rgb(3,3,3)"/><stop offset="0.905" stop-color="rgb(3,3,3)"/><stop offset="0.952" stop-color="rgb(2,2,2)"/><stop offset="1.000" stop-color="rgb(2,2,2)"/></linearGradient><linearGradient id="xr49" gradientUnits="userSpaceOnUse" x1="0" y1="0" x2="42" y2="0" spreadMethod="reflect"><stop offset="0.000" stop-color="rgb(5,5,5)"/><stop offset="0.048" stop-color="rgb(6,6,6)"/><stop offset="0.095" stop-color="rgb(7,7,7)"/><stop offset="0.143" stop-color="rgb(8,8,8)"/><stop offset="0.190" stop-color="rgb(11,11,11)"/><stop offset="0.238" stop-color="rgb(15,15,15)"/><stop offset="0.286" stop-color="rgb(18,18,18)"/><stop offset="0.333" stop-color="rgb(19,19,19)"/><stop offset="0.381" stop-color="rgb(17,17,17)"/><stop offset="0.429" stop-color="rgb(14,14,14)"/><stop offset="0.476" stop-color="rgb(11,11,11)"/><stop offset="0.524" stop-color="rgb(9,9,9)"/><stop offset="0.571" stop-color="rgb(7,7,7)"/><stop offset="0.619" stop-color="rgb(6,6,6)"/><stop offset="0.667" stop-color="rgb(6,6,6)"/><stop offset="0.714" stop-color="rgb(5,5,5)"/><stop offset="0.762" stop-color="rgb(4,4,4)"/><stop offset="0.810" stop-color="rgb(4,4,4)"/><stop offset="0.857" stop-color="rgb(3,3,3)"/><stop offset="0.905" stop-color="rgb(3,3,3)"/><stop offset="0.952" stop-color="rgb(2,2,2)"/><stop offset="1.000" stop-color="rgb(2,2,2)"/></linearGradient><linearGradient id="xr50" gradientUnits="userSpaceOnUse" x1="0" y1="0" x2="42" y2="0" spreadMethod="reflect"><stop offset="0.000" stop-color="rgb(5,5,5)"/><stop offset="0.048" stop-color="rgb(6,6,6)"/><stop offset="0.095" stop-color="rgb(6,6,6)"/><stop offset="0.143" stop-color="rgb(8,8,8)"/><stop offset="0.190" stop-color="rgb(11,11,11)"/><stop offset="0.238" stop-color="rgb(14,14,14)"/><stop offset="0.286" stop-color="rgb(17,17,17)"/><stop offset="0.333" stop-color="rgb(18,18,18)"/><stop offset="0.381" stop-color="rgb(17,17,17)"/><stop offset="0.429" stop-color="rgb(14,14,14)"/><stop offset="0.476" stop-color="rgb(11,11,11)"/><stop offset="0.524" stop-color="rgb(9,9,9)"/><stop offset="0.571" stop-color="rgb(7,7,7)"/><stop offset="0.619" stop-color="rgb(6,6,6)"/><stop offset="0.667" stop-color="rgb(6,6,6)"/><stop offset="0.714" stop-color="rgb(5,5,5)"/><stop offset="0.762" stop-color="rgb(4,4,4)"/><stop offset="0.810" stop-color="rgb(4,4,4)"/><stop offset="0.857" stop-color="rgb(3,3,3)"/><stop offset="0.905" stop-color="rgb(3,3,3)"/><stop offset="0.952" stop-color="rgb(2,2,2)"/><stop offset="1.000" stop-color="rgb(2,2,2)"/></linearGradient><linearGradient id="xr51" gradientUnits="userSpaceOnUse" x1="0" y1="0" x2="42" y2="0" spreadMethod="reflect"><stop offset="0.000" stop-color="rgb(5,5,5)"/><stop offset="0.048" stop-color="rgb(5,5,5)"/><stop offset="0.095" stop-color="rgb(6,6,6)"/><stop offset="0.143" stop-color="rgb(8,8,8)"/><stop offset="0.190" stop-color="rgb(10,10,10)"/><stop offset="0.238" stop-color="rgb(13,13,13)"/><stop offset="0.286" stop-color="rgb(17,17,17)"/><stop offset="0.333" stop-color="rgb(18,18,18)"/><stop offset="0.381" stop-color="rgb(17,17,17)"/><stop offset="0.429" stop-color="rgb(15,15,15)"/><stop offset="0.476" stop-color="rgb(11,11,11)"/><stop offset="0.524" stop-color="rgb(9,9,9)"/><stop offset="0.571" stop-color="rgb(7,7,7)"/><stop offset="0.619" stop-color="rgb(6,6,6)"/><stop offset="0.667" stop-color="rgb(6,6,6)"/><stop offset="0.714" stop-color="rgb(5,5,5)"/><stop offset="0.762" stop-color="rgb(5,5,5)"/><stop offset="0.810" stop-color="rgb(4,4,4)"/><stop offset="0.857" stop-color="rgb(3,3,3)"/><stop offset="0.905" stop-color="rgb(3,3,3)"/><stop offset="0.952" stop-color="rgb(2,2,2)"/><stop offset="1.000" stop-color="rgb(2,2,2)"/></linearGradient><linearGradient id="xr52" gradientUnits="userSpaceOnUse" x1="0" y1="0" x2="42" y2="0" spreadMethod="reflect"><stop offset="0.000" stop-color="rgb(5,5,5)"/><stop offset="0.048" stop-color="rgb(5,5,5)"/><stop offset="0.095" stop-color="rgb(6,6,6)"/><stop offset="0.143" stop-color="rgb(7,7,7)"/><stop offset="0.190" stop-color="rgb(10,10,10)"/><stop offset="0.238" stop-color="rgb(13,13,13)"/><stop offset="0.286" stop-color="rgb(16,16,16)"/><stop offset="0.333" stop-color="rgb(18,18,18)"/><stop offset="0.381" stop-color="rgb(17,17,17)"/><stop offset="0.429" stop-color="rgb(15,15,15)"/><stop offset="0.476" stop-color="rgb(12,12,12)"/><stop offset="0.524" stop-color="rgb(9,9,9)"/><stop offset="0.571" stop-color="rgb(8,8,8)"/><stop offset="0.619" stop-color="rgb(7,7,7)"/><stop offset="0.667" stop-color="rgb(6,6,6)"/><stop offset="0.714" stop-color="rgb(5,5,5)"/><stop offset="0.762" stop-color="rgb(5,5,5)"/><stop offset="0.810" stop-color="rgb(4,4,4)"/><stop offset="0.857" stop-color="rgb(3,3,3)"/><stop offset="0.905" stop-color="rgb(3,3,3)"/><stop offset="0.952" stop-color="rgb(2,2,2)"/><stop offset="1.000" stop-color="rgb(2,2,2)"/></linearGradient><linearGradient id="xr53" gradientUnits="userSpaceOnUse" x1="0" y1="0" x2="42" y2="0" spreadMethod="reflect"><stop offset="0.000" stop-color="rgb(5,5,5)"/><stop offset="0.048" stop-color="rgb(5,5,5)"/><stop offset="0.095" stop-color="rgb(6,6,6)"/><stop offset="0.143" stop-color="rgb(7,7,7)"/><stop offset="0.190" stop-color="rgb(9,9,9)"/><stop offset="0.238" stop-color="rgb(12,12,12)"/><stop offset="0.286" stop-color="rgb(15,15,15)"/><stop offset="0.333" stop-color="rgb(17,17,17)"/><stop offset="0.381" stop-color="rgb(17,17,17)"/><stop offset="0.429" stop-color="rgb(15,15,15)"/><stop offset="0.476" stop-color="rgb(12,12,12)"/><stop offset="0.524" stop-color="rgb(9,9,9)"/><stop offset="0.571" stop-color="rgb(8,8,8)"/><stop offset="0.619" stop-color="rgb(7,7,7)"/><stop offset="0.667" stop-color="rgb(6,6,6)"/><stop offset="0.714" stop-color="rgb(5,5,5)"/><stop offset="0.762" stop-color="rgb(5,5,5)"/><stop offset="0.810" stop-color="rgb(4,4,4)"/><stop offset="0.857" stop-color="rgb(3,3,3)"/><stop offset="0.905" stop-color="rgb(3,3,3)"/><stop offset="0.952" stop-color="rgb(2,2,2)"/><stop offset="1.000" stop-color="rgb(2,2,2)"/></linearGradient><linearGradient id="xr54" gradientUnits="userSpaceOnUse" x1="0" y1="0" x2="42" y2="0" spreadMethod="reflect"><stop offset="0.000" stop-color="rgb(5,5,5)"/><stop offset="0.048" stop-color="rgb(5,5,5)"/><stop offset="0.095" stop-color="rgb(5,5,5)"/><stop offset="0.143" stop-color="rgb(7,7,7)"/><stop offset="0.190" stop-color="rgb(9,9,9)"/><stop offset="0.238" stop-color="rgb(12,12,12)"/><stop offset="0.286" stop-color="rgb(15,15,15)"/><stop offset="0.333" stop-color="rgb(17,17,17)"/><stop offset="0.381" stop-color="rgb(17,17,17)"/><stop offset="0.429" stop-color="rgb(15,15,15)"/><stop offset="0.476" stop-color="rgb(12,12,12)"/><stop offset="0.524" stop-color="rgb(10,10,10)"/><stop offset="0.571" stop-color="rgb(8,8,8)"/><stop offset="0.619" stop-color="rgb(7,7,7)"/><stop offset="0.667" stop-color="rgb(6,6,6)"/><stop offset="0.714" stop-color="rgb(5,5,5)"/><stop offset="0.762" stop-color="rgb(5,5,5)"/><stop offset="0.810" stop-color="rgb(4,4,4)"/><stop offset="0.857" stop-color="rgb(4,4,4)"/><stop offset="0.905" stop-color="rgb(3,3,3)"/><stop offset="0.952" stop-color="rgb(2,2,2)"/><stop offset="1.000" stop-color="rgb(2,2,2)"/></linearGradient><linearGradient id="xr55" gradientUnits="userSpaceOnUse" x1="0" y1="0" x2="42" y2="0" spreadMethod="reflect"><stop offset="0.000" stop-color="rgb(5,5,5)"/><stop offset="0.048" stop-color="rgb(5,5,5)"/><stop offset="0.095" stop-color="rgb(5,5,5)"/><stop offset="0.143" stop-color="rgb(6,6,6)"/><stop offset="0.190" stop-color="rgb(8,8,8)"/><stop offset="0.238" stop-color="rgb(11,11,11)"/><stop offset="0.286" stop-color="rgb(14,14,14)"/><stop offset="0.333" stop-color="rgb(16,16,16)"/><stop offset="0.381" stop-color="rgb(17,17,17)"/><stop offset="0.429" stop-color="rgb(15,15,15)"/><stop offset="0.476" stop-color="rgb(12,12,12)"/><stop offset="0.524" stop-color="rgb(10,10,10)"/><stop offset="0.571" stop-color="rgb(8,8,8)"/><stop offset="0.619" stop-color="rgb(7,7,7)"/><stop offset="0.667" stop-color="rgb(6,6,6)"/><stop offset="0.714" stop-color="rgb(5,5,5)"/><stop offset="0.762" stop-color="rgb(5,5,5)"/><stop offset="0.810" stop-color="rgb(4,4,4)"/><stop offset="0.857" stop-color="rgb(4,4,4)"/><stop offset="0.905" stop-color="rgb(3,3,3)"/><stop offset="0.952" stop-color="rgb(3,3,3)"/><stop offset="1.000" stop-color="rgb(2,2,2)"/></linearGradient><linearGradient id="xr56" gradientUnits="userSpaceOnUse" x1="0" y1="0" x2="42" y2="0" spreadMethod="reflect"><stop offset="0.000" stop-color="rgb(5,5,5)"/><stop offset="0.048" stop-color="rgb(5,5,5)"/><stop offset="0.095" stop-color="rgb(5,5,5)"/><stop offset="0.143" stop-color="rgb(6,6,6)"/><stop offset="0.190" stop-color="rgb(8,8,8)"/><stop offset="0.238" stop-color="rgb(10,10,10)"/><stop offset="0.286" stop-color="rgb(14,14,14)"/><stop offset="0.333" stop-color="rgb(16,16,16)"/><stop offset="0.381" stop-color="rgb(17,17,17)"/><stop offset="0.429" stop-color="rgb(15,15,15)"/><stop offset="0.476" stop-color="rgb(13,13,13)"/><stop offset="0.524" stop-color="rgb(10,10,10)"/><stop offset="0.571" stop-color="rgb(8,8,8)"/><stop offset="0.619" stop-color="rgb(7,7,7)"/><stop offset="0.667" stop-color="rgb(6,6,6)"/><stop offset="0.714" stop-color="rgb(6,6,6)"/><stop offset="0.762" stop-color="rgb(5,5,5)"/><stop offset="0.810" stop-color="rgb(4,4,4)"/><stop offset="0.857" stop-color="rgb(4,4,4)"/><stop offset="0.905" stop-color="rgb(3,3,3)"/><stop offset="0.952" stop-color="rgb(3,3,3)"/><stop offset="1.000" stop-color="rgb(2,2,2)"/></linearGradient><linearGradient id="xr57" gradientUnits="userSpaceOnUse" x1="0" y1="0" x2="42" y2="0" spreadMethod="reflect"><stop offset="0.000" stop-color="rgb(5,5,5)"/><stop offset="0.048" stop-color="rgb(5,5,5)"/><stop offset="0.095" stop-color="rgb(5,5,5)"/><stop offset="0.143" stop-color="rgb(6,6,6)"/><stop offset="0.190" stop-color="rgb(7,7,7)"/><stop offset="0.238" stop-color="rgb(10,10,10)"/><stop offset="0.286" stop-color="rgb(13,13,13)"/><stop offset="0.333" stop-color="rgb(16,16,16)"/><stop offset="0.381" stop-color="rgb(16,16,16)"/><stop offset="0.429" stop-color="rgb(15,15,15)"/><stop offset="0.476" stop-color="rgb(13,13,13)"/><stop offset="0.524" stop-color="rgb(10,10,10)"/><stop offset="0.571" stop-color="rgb(8,8,8)"/><stop offset="0.619" stop-color="rgb(7,7,7)"/><stop offset="0.667" stop-color="rgb(6,6,6)"/><stop offset="0.714" stop-color="rgb(6,6,6)"/><stop offset="0.762" stop-color="rgb(5,5,5)"/><stop offset="0.810" stop-color="rgb(4,4,4)"/><stop offset="0.857" stop-color="rgb(4,4,4)"/><stop offset="0.905" stop-color="rgb(3,3,3)"/><stop offset="0.952" stop-color="rgb(3,3,3)"/><stop offset="1.000" stop-color="rgb(2,2,2)"/></linearGradient><linearGradient id="xr58" gradientUnits="userSpaceOnUse" x1="0" y1="0" x2="42" y2="0" spreadMethod="reflect"><stop offset="0.000" stop-color="rgb(4,4,4)"/><stop offset="0.048" stop-color="rgb(5,5,5)"/><stop offset="0.095" stop-color="rgb(5,5,5)"/><stop offset="0.143" stop-color="rgb(6,6,6)"/><stop offset="0.190" stop-color="rgb(7,7,7)"/><stop offset="0.238" stop-color="rgb(9,9,9)"/><stop offset="0.286" stop-color="rgb(12,12,12)"/><stop offset="0.333" stop-color="rgb(15,15,15)"/><stop offset="0.381" stop-color="rgb(16,16,16)"/><stop offset="0.429" stop-color="rgb(15,15,15)"/><stop offset="0.476" stop-color="rgb(13,13,13)"/><stop offset="0.524" stop-color="rgb(11,11,11)"/><stop offset="0.571" stop-color="rgb(8,8,8)"/><stop offset="0.619" stop-color="rgb(7,7,7)"/><stop offset="0.667" stop-color="rgb(6,6,6)"/><stop offset="0.714" stop-color="rgb(6,6,6)"/><stop offset="0.762" stop-color="rgb(5,5,5)"/><stop offset="0.810" stop-color="rgb(4,4,4)"/><stop offset="0.857" stop-color="rgb(4,4,4)"/><stop offset="0.905" stop-color="rgb(3,3,3)"/><stop offset="0.952" stop-color="rgb(3,3,3)"/><stop offset="1.000" stop-color="rgb(2,2,2)"/></linearGradient><linearGradient id="xr59" gradientUnits="userSpaceOnUse" x1="0" y1="0" x2="42" y2="0" spreadMethod="reflect"><stop offset="0.000" stop-color="rgb(4,4,4)"/><stop offset="0.048" stop-color="rgb(4,4,4)"/><stop offset="0.095" stop-color="rgb(5,5,5)"/><stop offset="0.143" stop-color="rgb(5,5,5)"/><stop offset="0.190" stop-color="rgb(7,7,7)"/><stop offset="0.238" stop-color="rgb(9,9,9)"/><stop offset="0.286" stop-color="rgb(12,12,12)"/><stop offset="0.333" stop-color="rgb(14,14,14)"/><stop offset="0.381" stop-color="rgb(16,16,16)"/><stop offset="0.429" stop-color="rgb(15,15,15)"/><stop offset="0.476" stop-color="rgb(13,13,13)"/><stop offset="0.524" stop-color="rgb(11,11,11)"/><stop offset="0.571" stop-color="rgb(9,9,9)"/><stop offset="0.619" stop-color="rgb(7,7,7)"/><stop offset="0.667" stop-color="rgb(6,6,6)"/><stop offset="0.714" stop-color="rgb(6,6,6)"/><stop offset="0.762" stop-color="rgb(5,5,5)"/><stop offset="0.810" stop-color="rgb(4,4,4)"/><stop offset="0.857" stop-color="rgb(4,4,4)"/><stop offset="0.905" stop-color="rgb(3,3,3)"/><stop offset="0.952" stop-color="rgb(3,3,3)"/><stop offset="1.000" stop-color="rgb(2,2,2)"/></linearGradient><linearGradient id="xr60" gradientUnits="userSpaceOnUse" x1="0" y1="0" x2="42" y2="0" spreadMethod="reflect"><stop offset="0.000" stop-color="rgb(4,4,4)"/><stop offset="0.048" stop-color="rgb(4,4,4)"/><stop offset="0.095" stop-color="rgb(5,5,5)"/><stop offset="0.143" stop-color="rgb(5,5,5)"/><stop offset="0.190" stop-color="rgb(6,6,6)"/><stop offset="0.238" stop-color="rgb(8,8,8)"/><stop offset="0.286" stop-color="rgb(11,11,11)"/><stop offset="0.333" stop-color="rgb(14,14,14)"/><stop offset="0.381" stop-color="rgb(16,16,16)"/><stop offset="0.429" stop-color="rgb(15,15,15)"/><stop offset="0.476" stop-color="rgb(13,13,13)"/><stop offset="0.524" stop-color="rgb(11,11,11)"/><stop offset="0.571" stop-color="rgb(9,9,9)"/><stop offset="0.619" stop-color="rgb(7,7,7)"/><stop offset="0.667" stop-color="rgb(6,6,6)"/><stop offset="0.714" stop-color="rgb(6,6,6)"/><stop offset="0.762" stop-color="rgb(5,5,5)"/><stop offset="0.810" stop-color="rgb(5,5,5)"/><stop offset="0.857" stop-color="rgb(4,4,4)"/><stop offset="0.905" stop-color="rgb(3,3,3)"/><stop offset="0.952" stop-color="rgb(3,3,3)"/><stop offset="1.000" stop-color="rgb(2,2,2)"/></linearGradient><linearGradient id="xr61" gradientUnits="userSpaceOnUse" x1="0" y1="0" x2="42" y2="0" spreadMethod="reflect"><stop offset="0.000" stop-color="rgb(4,4,4)"/><stop offset="0.048" stop-color="rgb(4,4,4)"/><stop offset="0.095" stop-color="rgb(5,5,5)"/><stop offset="0.143" stop-color="rgb(5,5,5)"/><stop offset="0.190" stop-color="rgb(6,6,6)"/><stop offset="0.238" stop-color="rgb(8,8,8)"/><stop offset="0.286" stop-color="rgb(11,11,11)"/><stop offset="0.333" stop-color="rgb(13,13,13)"/><stop offset="0.381" stop-color="rgb(15,15,15)"/><stop offset="0.429" stop-color="rgb(15,15,15)"/><stop offset="0.476" stop-color="rgb(14,14,14)"/><stop offset="0.524" stop-color="rgb(11,11,11)"/><stop offset="0.571" stop-color="rgb(9,9,9)"/><stop offset="0.619" stop-color="rgb(8,8,8)"/><stop offset="0.667" stop-color="rgb(7,7,7)"/><stop offset="0.714" stop-color="rgb(6,6,6)"/><stop offset="0.762" stop-color="rgb(5,5,5)"/><stop offset="0.810" stop-color="rgb(5,5,5)"/><stop offset="0.857" stop-color="rgb(4,4,4)"/><stop offset="0.905" stop-color="rgb(3,3,3)"/><stop offset="0.952" stop-color="rgb(3,3,3)"/><stop offset="1.000" stop-color="rgb(2,2,2)"/></linearGradient><g id="xw"><rect x="-42" y="0" width="84" height="1" fill="url(#xr0)"/><rect x="-42" y="-1" width="84" height="1" fill="url(#xr0)"/><rect x="-42" y="1" width="84" height="1" fill="url(#xr1)"/><rect x="-42" y="-2" width="84" height="1" fill="url(#xr1)"/><rect x="-42" y="2" width="84" height="1" fill="url(#xr2)"/><rect x="-42" y="-3" width="84" height="1" fill="url(#xr2)"/><rect x="-42" y="3" width="84" height="1" fill="url(#xr3)"/><rect x="-42" y="-4" width="84" height="1" fill="url(#xr3)"/><rect x="-42" y="4" width="84" height="1" fill="url(#xr4)"/><rect x="-42" y="-5" width="84" height="1" fill="url(#xr4)"/><rect x="-42" y="5" width="84" height="1" fill="url(#xr5)"/><rect x="-42" y="-6" width="84" height="1" fill="url(#xr5)"/><rect x="-42" y="6" width="84" height="1" fill="url(#xr6)"/><rect x="-42" y="-7" width="84" height="1" fill="url(#xr6)"/><rect x="-42" y="7" width="84" height="1" fill="url(#xr7)"/><rect x="-42" y="-8" width="84" height="1" fill="url(#xr7)"/><rect x="-42" y="8" width="84" height="1" fill="url(#xr8)"/><rect x="-42" y="-9" width="84" height="1" fill="url(#xr8)"/><rect x="-42" y="9" width="84" height="1" fill="url(#xr9)"/><rect x="-42" y="-10" width="84" height="1" fill="url(#xr9)"/><rect x="-42" y="10" width="84" height="1" fill="url(#xr10)"/><rect x="-42" y="-11" width="84" height="1" fill="url(#xr10)"/><rect x="-42" y="11" width="84" height="1" fill="url(#xr11)"/><rect x="-42" y="-12" width="84" height="1" fill="url(#xr11)"/><rect x="-42" y="12" width="84" height="1" fill="url(#xr12)"/><rect x="-42" y="-13" width="84" height="1" fill="url(#xr12)"/><rect x="-42" y="13" width="84" height="1" fill="url(#xr13)"/><rect x="-42" y="-14" width="84" height="1" fill="url(#xr13)"/><rect x="-42" y="14" width="84" height="1" fill="url(#xr14)"/><rect x="-42" y="-15" width="84" height="1" fill="url(#xr14)"/><rect x="-42" y="15" width="84" height="1" fill="url(#xr15)"/><rect x="-42" y="-16" width="84" height="1" fill="url(#xr15)"/><rect x="-42" y="16" width="84" height="1" fill="url(#xr16)"/><rect x="-42" y="-17" width="84" height="1" fill="url(#xr16)"/><rect x="-42" y="17" width="84" height="1" fill="url(#xr17)"/><rect x="-42" y="-18" width="84" height="1" fill="url(#xr17)"/><rect x="-42" y="18" width="84" height="1" fill="url(#xr18)"/><rect x="-42" y="-19" width="84" height="1" fill="url(#xr18)"/><rect x="-42" y="19" width="84" height="1" fill="url(#xr19)"/><rect x="-42" y="-20" width="84" height="1" fill="url(#xr19)"/><rect x="-42" y="20" width="84" height="1" fill="url(#xr20)"/><rect x="-42" y="-21" width="84" height="1" fill="url(#xr20)"/><rect x="-42" y="21" width="84" height="1" fill="url(#xr21)"/><rect x="-42" y="-22" width="84" height="1" fill="url(#xr21)"/><rect x="-42" y="22" width="84" height="1" fill="url(#xr22)"/><rect x="-42" y="-23" width="84" height="1" fill="url(#xr22)"/><rect x="-42" y="23" width="84" height="1" fill="url(#xr23)"/><rect x="-42" y="-24" width="84" height="1" fill="url(#xr23)"/><rect x="-42" y="24" width="84" height="1" fill="url(#xr24)"/><rect x="-42" y="-25" width="84" height="1" fill="url(#xr24)"/><rect x="-42" y="25" width="84" height="1" fill="url(#xr25)"/><rect x="-42" y="-26" width="84" height="1" fill="url(#xr25)"/><rect x="-42" y="26" width="84" height="1" fill="url(#xr26)"/><rect x="-42" y="-27" width="84" height="1" fill="url(#xr26)"/><rect x="-42" y="27" width="84" height="1" fill="url(#xr27)"/><rect x="-42" y="-28" width="84" height="1" fill="url(#xr27)"/><rect x="-42" y="28" width="84" height="1" fill="url(#xr28)"/><rect x="-42" y="-29" width="84" height="1" fill="url(#xr28)"/><rect x="-42" y="29" width="84" height="1" fill="url(#xr29)"/><rect x="-42" y="-30" width="84" height="1" fill="url(#xr29)"/><rect x="-42" y="30" width="84" height="1" fill="url(#xr30)"/><rect x="-42" y="-31" width="84" height="1" fill="url(#xr30)"/><rect x="-42" y="31" width="84" height="1" fill="url(#xr31)"/><rect x="-42" y="-32" width="84" height="1" fill="url(#xr31)"/><rect x="-42" y="32" width="84" height="1" fill="url(#xr32)"/><rect x="-42" y="-33" width="84" height="1" fill="url(#xr32)"/><rect x="-42" y="33" width="84" height="1" fill="url(#xr33)"/><rect x="-42" y="-34" width="84" height="1" fill="url(#xr33)"/><rect x="-42" y="34" width="84" height="1" fill="url(#xr34)"/><rect x="-42" y="-35" width="84" height="1" fill="url(#xr34)"/><rect x="-42" y="35" width="84" height="1" fill="url(#xr35)"/><rect x="-42" y="-36" width="84" height="1" fill="url(#xr35)"/><rect x="-42" y="36" width="84" height="1" fill="url(#xr36)"/><rect x="-42" y="-37" width="84" height="1" fill="url(#xr36)"/><rect x="-42" y="37" width="84" height="1" fill="url(#xr37)"/><rect x="-42" y="-38" width="84" height="1" fill="url(#xr37)"/><rect x="-42" y="38" width="84" height="1" fill="url(#xr38)"/><rect x="-42" y="-39" width="84" height="1" fill="url(#xr38)"/><rect x="-42" y="39" width="84" height="1" fill="url(#xr39)"/><rect x="-42" y="-40" width="84" height="1" fill="url(#xr39)"/><rect x="-42" y="40" width="84" height="1" fill="url(#xr40)"/><rect x="-42" y="-41" width="84" height="1" fill="url(#xr40)"/><rect x="-42" y="41" width="84" height="1" fill="url(#xr41)"/><rect x="-42" y="-42" width="84" height="1" fill="url(#xr41)"/><rect x="-42" y="42" width="84" height="1" fill="url(#xr42)"/><rect x="-42" y="-43" width="84" height="1" fill="url(#xr42)"/><rect x="-42" y="43" width="84" height="1" fill="url(#xr43)"/><rect x="-42" y="-44" width="84" height="1" fill="url(#xr43)"/><rect x="-42" y="44" width="84" height="1" fill="url(#xr44)"/><rect x="-42" y="-45" width="84" height="1" fill="url(#xr44)"/><rect x="-42" y="45" width="84" height="1" fill="url(#xr45)"/><rect x="-42" y="-46" width="84" height="1" fill="url(#xr45)"/><rect x="-42" y="46" width="84" height="1" fill="url(#xr46)"/><rect x="-42" y="-47" width="84" height="1" fill="url(#xr46)"/><rect x="-42" y="47" width="84" height="1" fill="url(#xr47)"/><rect x="-42" y="-48" width="84" height="1" fill="url(#xr47)"/><rect x="-42" y="48" width="84" height="1" fill="url(#xr48)"/><rect x="-42" y="-49" width="84" height="1" fill="url(#xr48)"/><rect x="-42" y="49" width="84" height="1" fill="url(#xr49)"/><rect x="-42" y="-50" width="84" height="1" fill="url(#xr49)"/><rect x="-42" y="50" width="84" height="1" fill="url(#xr50)"/><rect x="-42" y="-51" width="84" height="1" fill="url(#xr50)"/><rect x="-42" y="51" width="84" height="1" fill="url(#xr51)"/><rect x="-42" y="-52" width="84" height="1" fill="url(#xr51)"/><rect x="-42" y="52" width="84" height="1" fill="url(#xr52)"/><rect x="-42" y="-53" width="84" height="1" fill="url(#xr52)"/><rect x="-42" y="53" width="84" height="1" fill="url(#xr53)"/><rect x="-42" y="-54" width="84" height="1" fill="url(#xr53)"/><rect x="-42" y="54" width="84" height="1" fill="url(#xr54)"/><rect x="-42" y="-55" width="84" height="1" fill="url(#xr54)"/><rect x="-42" y="55" width="84" height="1" fill="url(#xr55)"/><rect x="-42" y="-56" width="84" height="1" fill="url(#xr55)"/><rect x="-42" y="56" width="84" height="1" fill="url(#xr56)"/><rect x="-42" y="-57" width="84" height="1" fill="url(#xr56)"/><rect x="-42" y="57" width="84" height="1" fill="url(#xr57)"/><rect x="-42" y="-58" width="84" height="1" fill="url(#xr57)"/><rect x="-42" y="58" width="84" height="1" fill="url(#xr58)"/><rect x="-42" y="-59" width="84" height="1" fill="url(#xr58)"/><rect x="-42" y="59" width="84" height="1" fill="url(#xr59)"/><rect x="-42" y="-60" width="84" height="1" fill="url(#xr59)"/><rect x="-42" y="60" width="84" height="1" fill="url(#xr60)"/><rect x="-42" y="-61" width="84" height="1" fill="url(#xr60)"/><rect x="-42" y="61" width="84" height="1" fill="url(#xr61)"/><rect x="-42" y="-62" width="84" height="1" fill="url(#xr61)"/></g><clipPath id="ch"><rect x="277.2" y="416.6" width="120.69999999999999" height="117.39999999999998"/></clipPath><clipPath id="ci"><rect x="502.7" y="416.6" width="120.50000000000006" height="117.39999999999998"/></clipPath><linearGradient id="diskg" gradientUnits="userSpaceOnUse" x1="69" y1="0" x2="177" y2="0"><stop offset="0" stop-color="#e5ecf0"/><stop offset="0.3" stop-color="#dde4f0"/><stop offset="0.55" stop-color="#d4cde0"/><stop offset="0.8" stop-color="#ccb3be"/><stop offset="1" stop-color="#c4a0a5"/></linearGradient><linearGradient id="coneg" gradientUnits="userSpaceOnUse" x1="0" y1="88" x2="0" y2="110"><stop offset="0" stop-color="#9a7780"/><stop offset="1" stop-color="#85626c"/></linearGradient><clipPath id="silclip"><polygon points="0,0 200,0 200,70.3 120.3,110 0,21.5"/></clipPath><clipPath id="diskclip"><ellipse cx="123.6" cy="57.6" rx="54.2" ry="43.6" transform="rotate(6.7 123.6 57.6)" clip-path="url(#silclip)"/></clipPath><clipPath id="bigclip"><ellipse cx="135.8" cy="84.5" rx="32.2" ry="13.4" transform="rotate(-29.7 135.8 84.5)"/></clipPath><linearGradient id="plin" gradientUnits="userSpaceOnUse" x1="100" y1="0" x2="178" y2="0"><stop offset="0" stop-color="#e6a090" stop-opacity="0.08"/><stop offset="0.5" stop-color="#d89080" stop-opacity="0.22"/><stop offset="1" stop-color="#c87870" stop-opacity="0.36"/></linearGradient><linearGradient id="tang" gradientUnits="userSpaceOnUse" x1="122.4" y1="60.4" x2="176" y2="39.4"><stop offset="0" stop-color="#6e6266"/><stop offset="0.78" stop-color="#7a5a5c"/><stop offset="0.84" stop-color="#e03a34"/><stop offset="1" stop-color="#e8302a"/></linearGradient></defs>
<polygon points="69.6,135.1 100.3,70.2 184.3,36.2 160.6,115.5" fill="#eaa58f" fill-opacity="0.38"/><ellipse cx="123.6" cy="57.6" rx="54.2" ry="43.6" transform="rotate(6.7 123.6 57.6)" fill="url(#diskg)" stroke="none" stroke-width="0" clip-path="url(#silclip)"/><polygon points="69.6,135.1 100.3,70.2 184.3,36.2 160.6,115.5" fill="url(#plin)" clip-path="url(#diskclip)"/><polygon points="69.6,135.1 100.3,70.2 184.3,36.2 160.6,115.5" fill="#e09a88" fill-opacity="0.18" clip-path="url(#bigclip)"/><ellipse cx="130.8" cy="113.7" rx="24.3" ry="17.9" transform="rotate(17.8 130.8 113.7)" fill="none" stroke="#9a9a9a" stroke-width="0.9" /><path d="M150.56,106.27 L151.08,106.97 L151.57,107.69 L152.02,108.41 L152.44,109.14 L152.83,109.88 L153.17,110.62 L153.48,111.37 L153.75,112.13 L153.99,112.89 L154.18,113.64 L154.34,114.40 L154.46,115.16 L154.53,115.91 L154.57,116.66 L154.57,117.41 L154.53,118.15 L154.45,118.88 L154.33,119.61 L154.17,120.32 L153.97,121.02 L153.73,121.72 L153.46,122.39 L153.15,123.06 L152.80,123.70 L152.41,124.33 L151.99,124.95 L151.53,125.54 L151.04,126.12 L150.51,126.67 L149.95,127.20 L149.36,127.71 L148.74,128.20 L148.09,128.66 L147.41,129.10 L146.70,129.51 L145.97,129.90 L145.21,130.26 L144.43,130.59 L143.62,130.89 L142.79,131.16" fill="none" stroke="#e8413a" stroke-width="1"/><path d="M91.73,88.15 L93.15,88.89 L94.59,89.59 L96.06,90.26 L97.56,90.89 L99.08,91.48 L100.63,92.04 L102.20,92.56 L103.79,93.04 L105.40,93.48 L107.02,93.88 L108.67,94.25 L110.32,94.57 L111.99,94.86 L113.67,95.10 L115.36,95.30 L117.05,95.46 L118.75,95.58 L120.46,95.66 L122.17,95.70 L123.87,95.69 L125.58,95.65 L127.28,95.56 L128.98,95.44 L130.67,95.27 L132.35,95.06 L134.03,94.81 L135.69,94.51 L137.33,94.18 L138.97,93.81 L140.58,93.40 L142.18,92.95 L143.76,92.46 L145.31,91.94 L146.85,91.37 L148.36,90.77 L149.84,90.14 L151.29,89.46 L152.72,88.75 L154.11,88.01 L155.47,87.24 L120.3,109.8 Z" fill="url(#coneg)" fill-opacity="0.9"/><ellipse cx="76.0" cy="67.5" rx="7.84" ry="24.6" transform="rotate(12.3 76.0 67.5)" fill="none" stroke="#959595" stroke-width="0.9" /><path d="M81.07,43.43 L80.75,43.41 L80.42,43.42 L80.08,43.48 L79.74,43.57 L79.39,43.70 L79.04,43.87 L78.68,44.09 L78.31,44.34 L77.95,44.62 L77.58,44.95 L77.20,45.31 L76.83,45.71 L76.45,46.15 L76.07,46.62 L75.70,47.13 L75.32,47.67 L74.94,48.24 L74.57,48.85 L74.20,49.48 L73.83,50.15 L73.46,50.84 L73.10,51.56 L72.75,52.31 L72.40,53.08 L72.05,53.88 L71.71,54.70 L71.38,55.54 L71.06,56.40 L70.74,57.28 L70.44,58.17 L70.14,59.08 L69.85,60.01 L69.57,60.95 L69.31,61.89 L69.05,62.85 L68.81,63.82 L68.57,64.79 L68.35,65.76 L68.15,66.74 L67.95,67.72" fill="none" stroke="#e8413a" stroke-width="1"/><ellipse cx="135.8" cy="84.5" rx="32.2" ry="13.4" transform="rotate(-29.7 135.8 84.5)" fill="none" stroke="#5e5e5e" stroke-width="1.1" /><path d="M158.19,65.09 L158.96,65.27 L159.69,65.49 L160.37,65.74 L161.01,66.03 L161.59,66.36 L162.13,66.72 L162.61,67.12 L163.04,67.55 L163.42,68.01 L163.75,68.51 L164.02,69.03 L164.23,69.59 L164.39,70.18 L164.50,70.79 L164.54,71.43 L164.54,72.10 L164.47,72.79 L164.35,73.50 L164.18,74.24 L163.95,74.99 L163.66,75.76 L163.32,76.55 L162.93,77.36 L162.48,78.18 L161.98,79.01 L161.43,79.85 L160.83,80.71 L160.18,81.57 L159.49,82.43 L158.74,83.30 L157.96,84.17 L157.13,85.04 L156.26,85.91 L155.34,86.78 L154.39,87.65 L153.41,88.50 L152.39,89.35 L151.34,90.19 L150.25,91.02 L149.14,91.84" fill="none" stroke="#e8332b" stroke-width="1.2"/><line x1="122.4" y1="60.4" x2="176" y2="39.4" stroke="url(#tang)" stroke-width="0.9"/><circle cx="176" cy="39.4" r="1.3" fill="#b02020"/><line x1="49.3" y1="75.8" x2="92.6" y2="5.9" stroke="#7c7c7c" stroke-width="0.75" stroke-dasharray="1 1.4" fill="none"/><line x1="92.6" y1="5.9" x2="187" y2="29.3" stroke="#7c7c7c" stroke-width="0.75" stroke-dasharray="1 1.4" fill="none"/><line x1="92.6" y1="5.9" x2="94.8" y2="67.7" stroke="#7c7c7c" stroke-width="0.75" stroke-dasharray="1 1.4" fill="none"/><line x1="94.8" y1="67.7" x2="171.6" y2="88.5" stroke="#7c7c7c" stroke-width="0.75" stroke-dasharray="1 1.4" fill="none"/><line x1="94.8" y1="67.7" x2="62" y2="133.6" stroke="#7c7c7c" stroke-width="0.75" stroke-dasharray="1 1.4" fill="none"/><line x1="49.3" y1="75.8" x2="163.5" y2="111.5" stroke="#7c7c7c" stroke-width="0.75" stroke-dasharray="1 1.4" fill="none"/><line x1="187" y1="29.3" x2="171.6" y2="88.5" stroke="#7c7c7c" stroke-width="0.75" stroke-dasharray="1 1.4" fill="none"/><line x1="187" y1="29.3" x2="163.5" y2="111.5" stroke="#7c7c7c" stroke-width="0.75" stroke-dasharray="1 1.4" fill="none"/><line x1="163.5" y1="111.5" x2="148.7" y2="161.6" stroke="#7c7c7c" stroke-width="0.75" stroke-dasharray="1 1.4" fill="none"/><line x1="171.6" y1="88.5" x2="148.7" y2="161.6" stroke="#7c7c7c" stroke-width="0.75" stroke-dasharray="1 1.4" fill="none"/><line x1="62" y1="133.6" x2="49.3" y2="75.8" stroke="#8c8c8c" stroke-width="0.8" fill="none"/><line x1="62" y1="133.6" x2="148.7" y2="161.6" stroke="#8c8c8c" stroke-width="0.8" fill="none"/><line x1="148.7" y1="161.6" x2="171.6" y2="88.5" stroke="#8c8c8c" stroke-width="0.8" fill="none"/><text x="47.2" y="89.5" fill="#1a1a1a" font-size="10.2" text-anchor="end">1</text><text x="52.6" y="114.8" fill="#1a1a1a" font-size="10.2" text-anchor="end">0.5</text><text x="56.6" y="134.1" fill="#1a1a1a" font-size="10.2" text-anchor="end">0</text><text x="64" y="148.9" fill="#1a1a1a" font-size="10.2">−1</text><text x="99.8" y="161.3" fill="#1a1a1a" font-size="10.2">0</text><text x="138.3" y="172.4" fill="#1a1a1a" font-size="10.2">1</text><text x="174.8" y="101.6" fill="#1a1a1a" font-size="10.2">−1</text><text x="168.6" y="129.7" fill="#1a1a1a" font-size="10.2">0</text><text x="156.5" y="161.6" fill="#1a1a1a" font-size="10.2">1</text><text x="10.8" y="115.9" fill="#1a1a1a" font-size="10.5" font-family="Liberation Serif, serif" font-style="italic">ω/ω<tspan font-size="7.5" dy="2.2" font-family="Liberation Sans, sans-serif" font-style="normal">0</tspan></text><text x="81.5" y="175.6" fill="#1a1a1a" font-size="10.6" font-style="italic">k<tspan font-size="7.8" dy="2.6">z</tspan><tspan dy="-2.6">/k</tspan><tspan font-size="7.8" dy="2.6" font-style="normal">0</tspan></text><text x="180.2" y="129.2" fill="#1a1a1a" font-size="10.6" font-style="italic">k<tspan font-size="7.8" dy="2.6" font-style="normal">||</tspan><tspan dy="-2.6">/k</tspan><tspan font-size="7.8" dy="2.6" font-style="normal">0</tspan></text>
<text x="-0.6" y="12.8" font-size="17" text-anchor="start" font-weight="bold" fill="#000" >a</text><text x="227.2" y="12.4" font-size="17" text-anchor="start" font-weight="bold" fill="#000" >b</text><text x="449.2" y="12.6" font-size="17" text-anchor="start" font-weight="bold" fill="#000" >c</text><text x="-0.8" y="212.9" font-size="17" text-anchor="start" font-weight="bold" fill="#000" >d</text><text x="215.4" y="212.6" font-size="17" text-anchor="start" font-weight="bold" fill="#000" >e</text><text x="448.3" y="212.6" font-size="17" text-anchor="start" font-weight="bold" fill="#000" >f</text><text x="-0.6" y="405.9" font-size="17" text-anchor="start" font-weight="bold" fill="#000" >g</text><text x="216.6" y="408.2" font-size="17" text-anchor="start" font-weight="bold" fill="#000" >h</text><text x="456.4" y="407.1" font-size="17" text-anchor="start" font-weight="bold" fill="#000" >i</text><rect x="280.5" y="23.5" width="118.0" height="114.0" fill="none" stroke="#d4d4d4" stroke-width="1"/><line x1="278.0" y1="28.4" x2="280.5" y2="28.4" stroke="#333" stroke-width="0.8"/><text x="273.0" y="32.5" font-size="10.2" text-anchor="end" font-weight="normal" fill="#262626" >1.000</text><line x1="278.0" y1="73.9" x2="280.5" y2="73.9" stroke="#333" stroke-width="0.8"/><text x="273.0" y="78.0" font-size="10.2" text-anchor="end" font-weight="normal" fill="#262626" >0.998</text><line x1="278.0" y1="119.4" x2="280.5" y2="119.4" stroke="#333" stroke-width="0.8"/><text x="273.0" y="123.5" font-size="10.2" text-anchor="end" font-weight="normal" fill="#262626" >0.996</text><line x1="302.3" y1="137.5" x2="302.3" y2="140.0" stroke="#333" stroke-width="0.8"/><text x="302.3" y="152.5" font-size="10.2" text-anchor="middle" font-weight="normal" fill="#262626" >−0.1</text><line x1="339.3" y1="137.5" x2="339.3" y2="140.0" stroke="#333" stroke-width="0.8"/><text x="339.3" y="152.5" font-size="10.2" text-anchor="middle" font-weight="normal" fill="#262626" >0.0</text><line x1="376.3" y1="137.5" x2="376.3" y2="140.0" stroke="#333" stroke-width="0.8"/><text x="376.3" y="152.5" font-size="10.2" text-anchor="middle" font-weight="normal" fill="#262626" >0.1</text><path d="M285.60,133.94 L287.39,127.02 L289.18,120.34 L290.97,113.89 L292.76,107.67 L294.55,101.69 L296.34,95.95 L298.13,90.44 L299.92,85.16 L301.71,80.12 L303.50,75.31 L305.29,70.73 L307.08,66.40 L308.87,62.29 L310.66,58.42 L312.45,54.79 L314.24,51.38 L316.03,48.22 L317.82,45.29 L319.61,42.59 L321.40,40.13 L323.19,37.90 L324.98,35.91 L326.77,34.15 L328.56,32.62 L330.35,31.33 L332.14,30.28 L333.93,29.46 L335.72,28.87 L337.51,28.52 L339.30,28.40 L341.09,28.52 L342.88,28.87 L344.67,29.46 L346.46,30.28 L348.25,31.33 L350.04,32.62 L351.83,34.15 L353.62,35.91 L355.41,37.90 L357.20,40.13 L358.99,42.59 L360.78,45.29 L362.57,48.22 L364.36,51.38 L366.15,54.79 L367.94,58.42 L369.73,62.29 L371.52,66.40 L373.31,70.73 L375.10,75.31 L376.89,80.12 L378.68,85.16 L380.47,90.44 L382.26,95.95 L384.05,101.69 L385.84,107.67 L387.63,113.89 L389.42,120.34 L391.21,127.02 L393.00,133.94" fill="none" stroke="#e3262a" stroke-width="2.1"/><path d="M285.60,133.94 L287.39,127.02 L289.18,120.34 L290.97,113.89 L292.76,107.67 L294.55,101.69 L296.34,95.95 L298.13,90.44 L299.92,85.16 L301.71,80.12 L303.50,75.31 L305.29,70.73 L307.08,66.40 L308.87,62.29 L310.66,58.42 L312.45,54.79 L314.24,51.38 L316.03,48.22 L317.82,45.29 L319.61,42.59 L321.40,40.13 L323.19,37.90 L324.98,35.91 L326.77,34.15 L328.56,32.62 L330.35,31.33 L332.14,30.28 L333.93,29.46 L335.72,28.87 L337.51,28.52 L339.30,28.40 L341.09,28.52 L342.88,28.87 L344.67,29.46 L346.46,30.28 L348.25,31.33 L350.04,32.62 L351.83,34.15 L353.62,35.91 L355.41,37.90 L357.20,40.13 L358.99,42.59 L360.78,45.29 L362.57,48.22 L364.36,51.38 L366.15,54.79 L367.94,58.42 L369.73,62.29 L371.52,66.40 L373.31,70.73 L375.10,75.31 L376.89,80.12 L378.68,85.16 L380.47,90.44 L382.26,95.95 L384.05,101.69 L385.84,107.67 L387.63,113.89 L389.42,120.34 L391.21,127.02 L393.00,133.94" fill="none" stroke="#fdb462" stroke-width="1.3" stroke-dasharray="2 2.2"/><circle cx="339.3" cy="28.4" r="1.7" fill="#e3262a"/><line x1="311" y1="104.6" x2="325" y2="104.6" stroke="#e3262a" stroke-width="1.9"/><text x="331" y="108" font-size="10.4" text-anchor="start" font-weight="normal" fill="#262626" ><tspan font-family="Liberation Serif, serif">ω</tspan>(k<tspan font-size="6.5" dy="2"> ||</tspan><tspan dy="-2"> )</tspan></text><line x1="311.4" y1="124.5" x2="324" y2="124.5" stroke="#fdb462" stroke-width="1.4" stroke-dasharray="2 2.2"/><text x="331" y="128" font-size="10.4" text-anchor="start" font-weight="normal" fill="#262626" >Fit</text><text x="236" y="82" font-size="10.4" text-anchor="middle" font-weight="normal" fill="#262626" transform="rotate(-90 236 82)"><tspan font-family="Liberation Serif, serif" font-size="11.8">ω</tspan>/<tspan font-family="Liberation Serif, serif" font-size="11.8">ω</tspan><tspan font-size="7" dy="2">0</tspan></text><text x="329.5" y="170" font-size="10.4" text-anchor="start" font-weight="normal" fill="#262626" >k<tspan font-size="6.5" dy="2"> ||</tspan><tspan dy="-2">/k</tspan><tspan font-size="6.5" dy="2">0</tspan></text><rect x="503.5" y="25.1" width="113.5" height="114.9" fill="none" stroke="#d4d4d4" stroke-width="1"/><line x1="501.0" y1="27.8" x2="503.5" y2="27.8" stroke="#333" stroke-width="0.8"/><text x="496.0" y="31.9" font-size="10.2" text-anchor="end" font-weight="normal" fill="#262626" >1.000</text><line x1="501.0" y1="72.6" x2="503.5" y2="72.6" stroke="#333" stroke-width="0.8"/><text x="496.0" y="76.69999999999999" font-size="10.2" text-anchor="end" font-weight="normal" fill="#262626" >0.998</text><line x1="501.0" y1="117.4" x2="503.5" y2="117.4" stroke="#333" stroke-width="0.8"/><text x="496.0" y="121.5" font-size="10.2" text-anchor="end" font-weight="normal" fill="#262626" >0.996</text><line x1="544.8" y1="140" x2="544.8" y2="142.5" stroke="#333" stroke-width="0.8"/><text x="544.8" y="155" font-size="10.2" text-anchor="middle" font-weight="normal" fill="#262626" >0.99</text><line x1="610.3" y1="140" x2="610.3" y2="142.5" stroke="#333" stroke-width="0.8"/><text x="610.3" y="155" font-size="10.2" text-anchor="middle" font-weight="normal" fill="#262626" >1.00</text><line x1="577.6" y1="140" x2="610.5" y2="28" stroke="#a6c4ea" stroke-width="1.8"/><line x1="509.5" y1="131.1" x2="610.7" y2="27.9" stroke="#e3262a" stroke-width="2.2"/><circle cx="610.7" cy="27.9" r="1.8" fill="#e3262a"/><line x1="508.7" y1="36.9" x2="522.6" y2="36.9" stroke="#a6c4ea" stroke-width="1.8"/><text x="528" y="41.8" font-size="10" text-anchor="start" font-weight="normal" fill="#262626" >light cone</text><line x1="508.7" y1="55.7" x2="522.6" y2="55.7" stroke="#e3262a" stroke-width="2"/><text x="528" y="59.3" font-size="10.4" text-anchor="start" font-weight="normal" fill="#262626" ><tspan font-family="Liberation Serif, serif">ω</tspan>(k<tspan font-size="6.5" dy="2">z</tspan><tspan dy="-2">)</tspan></text><text x="458.5" y="84" font-size="10.4" text-anchor="middle" font-weight="normal" fill="#262626" transform="rotate(-90 458.5 84)"><tspan font-family="Liberation Serif, serif" font-size="11.8">ω</tspan>/<tspan font-family="Liberation Serif, serif" font-size="11.8">ω</tspan><tspan font-size="7" dy="2">0</tspan></text><text x="550" y="170" font-size="10.4" text-anchor="start" font-weight="normal" fill="#262626" >k<tspan font-size="6.5" dy="2">z</tspan><tspan dy="-2">/k</tspan><tspan font-size="6.5" dy="2">0</tspan></text><g filter="url(#mg)"><rect x="47.7" y="213.6" width="119.39999999999999" height="125.00000000000003" fill="url(#gd)"/></g><rect x="47.7" y="213.6" width="119.39999999999999" height="125.00000000000003" fill="none" stroke="#9a9a9a" stroke-width="0.6"/><line x1="45.2" y1="216.3" x2="47.7" y2="216.3" stroke="#333" stroke-width="0.8"/><text x="40.2" y="220.4" font-size="10.2" text-anchor="end" font-weight="normal" fill="#262626" >0.6</text><line x1="45.2" y1="276.2" x2="47.7" y2="276.2" stroke="#333" stroke-width="0.8"/><text x="40.2" y="280.3" font-size="10.2" text-anchor="end" font-weight="normal" fill="#262626" >0.0</text><line x1="45.2" y1="335.4" x2="47.7" y2="335.4" stroke="#333" stroke-width="0.8"/><text x="40.2" y="339.5" font-size="10.2" text-anchor="end" font-weight="normal" fill="#262626" >−0.6</text><line x1="53.400000000000006" y1="338.6" x2="53.400000000000006" y2="341.1" stroke="#333" stroke-width="0.8"/><text x="53.400000000000006" y="353.6" font-size="10.2" text-anchor="middle" font-weight="normal" fill="#262626" >−0.1</text><line x1="107.4" y1="338.6" x2="107.4" y2="341.1" stroke="#333" stroke-width="0.8"/><text x="107.4" y="353.6" font-size="10.2" text-anchor="middle" font-weight="normal" fill="#262626" >0.0</text><line x1="161.4" y1="338.6" x2="161.4" y2="341.1" stroke="#333" stroke-width="0.8"/><text x="161.4" y="353.6" font-size="10.2" text-anchor="middle" font-weight="normal" fill="#262626" >0.1</text><rect x="175" y="213.6" width="6" height="125.00000000000003" fill="url(#cbar)"/><text x="188" y="217.2" font-size="10.2" text-anchor="start" font-weight="normal" fill="#262626" >1.0</text><text x="188" y="279.7" font-size="10.2" text-anchor="start" font-weight="normal" fill="#262626" >0.5</text><text x="188" y="342.2" font-size="10.2" text-anchor="start" font-weight="normal" fill="#262626" >0</text><text x="82" y="371.5" font-size="10.4" text-anchor="start" font-weight="normal" fill="#262626" >k<tspan font-size="6.5" dy="2"> ||</tspan><tspan dy="-2"> [rad/um]</tspan></text><text x="9.4" y="276.1" font-size="10" text-anchor="middle" font-weight="normal" fill="#262626" transform="rotate(-90 9.4 276.1)">(<tspan font-family="Liberation Serif, serif">ω</tspan> − <tspan font-family="Liberation Serif, serif">ω</tspan><tspan font-size="6.5" dy="2">0</tspan><tspan dy="-2">)[rad/ps]</tspan></text><g filter="url(#mg)" clip-path="url(#ce)"><rect x="275" y="213.4" width="118.89999999999998" height="125.20000000000002" fill="#000"/><rect x="275" y="213.4" width="118.89999999999998" height="125.20000000000002" fill="url(#ge_glow)"/><path d="M288.00,345.71 L289.56,341.18 L291.12,336.80 L292.68,332.57 L294.23,328.50 L295.79,324.58 L297.35,320.82 L298.91,317.21 L300.47,313.75 L302.02,310.44 L303.58,307.29 L305.14,304.30 L306.70,301.45 L308.26,298.76 L309.82,296.22 L311.38,293.84 L312.93,291.61 L314.49,289.53 L316.05,287.61 L317.61,285.84 L319.17,284.22 L320.73,282.76 L322.28,281.45 L323.84,280.29 L325.40,279.29 L326.96,278.44 L328.52,277.75 L330.07,277.21 L331.63,276.82 L333.19,276.58 L334.75,276.50 L336.31,276.57 L337.87,276.80 L339.43,277.18 L340.98,277.71 L342.54,278.39 L344.10,279.23 L345.66,280.23 L347.22,281.37 L348.77,282.67 L350.33,284.12 L351.89,285.73 L353.45,287.49 L355.01,289.40 L356.57,291.47 L358.12,293.69 L359.68,296.07 L361.24,298.59 L362.80,301.27 L364.36,304.11 L365.92,307.10 L367.48,310.24 L369.03,313.53 L370.59,316.98 L372.15,320.58 L373.71,324.34 L375.27,328.25 L376.82,332.31 L378.38,336.52 L379.94,340.89 L381.50,345.42" fill="none" stroke="#fff" stroke-opacity="0.22" stroke-width="2.8"/><path d="M288.00,345.71 L289.56,341.18 L291.12,336.80 L292.68,332.57 L294.23,328.50 L295.79,324.58 L297.35,320.82 L298.91,317.21 L300.47,313.75 L302.02,310.44 L303.58,307.29 L305.14,304.30 L306.70,301.45 L308.26,298.76 L309.82,296.22 L311.38,293.84 L312.93,291.61 L314.49,289.53 L316.05,287.61 L317.61,285.84 L319.17,284.22 L320.73,282.76 L322.28,281.45 L323.84,280.29 L325.40,279.29 L326.96,278.44 L328.52,277.75 L330.07,277.21 L331.63,276.82 L333.19,276.58 L334.75,276.50 L336.31,276.57 L337.87,276.80 L339.43,277.18 L340.98,277.71 L342.54,278.39 L344.10,279.23 L345.66,280.23 L347.22,281.37 L348.77,282.67 L350.33,284.12 L351.89,285.73 L353.45,287.49 L355.01,289.40 L356.57,291.47 L358.12,293.69 L359.68,296.07 L361.24,298.59 L362.80,301.27 L364.36,304.11 L365.92,307.10 L367.48,310.24 L369.03,313.53 L370.59,316.98 L372.15,320.58 L373.71,324.34 L375.27,328.25 L376.82,332.31 L378.38,336.52 L379.94,340.89 L381.50,345.42" fill="none" stroke="#fff" stroke-opacity="0.68" stroke-width="1.0"/></g><rect x="275" y="213.4" width="118.89999999999998" height="125.20000000000002" fill="none" stroke="#9a9a9a" stroke-width="0.6"/><line x1="272.5" y1="216.3" x2="275" y2="216.3" stroke="#333" stroke-width="0.8"/><text x="267.5" y="220.4" font-size="10.2" text-anchor="end" font-weight="normal" fill="#262626" >0.6</text><line x1="272.5" y1="276.2" x2="275" y2="276.2" stroke="#333" stroke-width="0.8"/><text x="267.5" y="280.3" font-size="10.2" text-anchor="end" font-weight="normal" fill="#262626" >0.0</text><line x1="272.5" y1="335.4" x2="275" y2="335.4" stroke="#333" stroke-width="0.8"/><text x="267.5" y="339.5" font-size="10.2" text-anchor="end" font-weight="normal" fill="#262626" >−0.6</text><line x1="280.3" y1="338.6" x2="280.3" y2="341.1" stroke="#333" stroke-width="0.8"/><text x="280.3" y="353.6" font-size="10.2" text-anchor="middle" font-weight="normal" fill="#262626" >−0.1</text><line x1="334.3" y1="338.6" x2="334.3" y2="341.1" stroke="#333" stroke-width="0.8"/><text x="334.3" y="353.6" font-size="10.2" text-anchor="middle" font-weight="normal" fill="#262626" >0.0</text><line x1="388.3" y1="338.6" x2="388.3" y2="341.1" stroke="#333" stroke-width="0.8"/><text x="388.3" y="353.6" font-size="10.2" text-anchor="middle" font-weight="normal" fill="#262626" >0.1</text><rect x="402.1" y="213.4" width="6" height="125.20000000000002" fill="url(#cbar)"/><text x="415.1" y="217.2" font-size="10.2" text-anchor="start" font-weight="normal" fill="#262626" >1.0</text><text x="415.1" y="279.7" font-size="10.2" text-anchor="start" font-weight="normal" fill="#262626" >0.5</text><text x="415.1" y="342.2" font-size="10.2" text-anchor="start" font-weight="normal" fill="#262626" >0</text><text x="310" y="371.5" font-size="10.4" text-anchor="start" font-weight="normal" fill="#262626" >k<tspan font-size="6.5" dy="2"> ||</tspan><tspan dy="-2"> [rad/um]</tspan></text><text x="236.8" y="276.0" font-size="10" text-anchor="middle" font-weight="normal" fill="#262626" transform="rotate(-90 236.8 276.0)">(<tspan font-family="Liberation Serif, serif">ω</tspan> − <tspan font-family="Liberation Serif, serif">ω</tspan><tspan font-size="6.5" dy="2">0</tspan><tspan dy="-2">)[rad/ps]</tspan></text><g filter="url(#mg)" clip-path="url(#cf)"><rect x="502.8" y="213.4" width="119.40000000000003" height="125.20000000000002" fill="#000"/><rect x="502.8" y="213.4" width="119.40000000000003" height="125.20000000000002" fill="url(#gf_glow)"/><g mask="url(#mf)"><path d="M512.00,358.29 L513.68,352.92 L515.37,347.73 L517.05,342.72 L518.73,337.90 L520.42,333.26 L522.10,328.80 L523.78,324.52 L525.47,320.42 L527.15,316.51 L528.83,312.78 L530.52,309.23 L532.20,305.87 L533.88,302.69 L535.57,299.68 L537.25,296.87 L538.93,294.23 L540.62,291.78 L542.30,289.51 L543.98,287.42 L545.67,285.52 L547.35,283.79 L549.03,282.25 L550.72,280.90 L552.40,279.72 L554.08,278.73 L555.77,277.92 L557.45,277.29 L559.13,276.84 L560.82,276.58 L562.50,276.50 L564.18,276.60 L565.87,276.89 L567.55,277.35 L569.23,278.00 L570.92,278.84 L572.60,279.85 L574.28,281.05 L575.97,282.43 L577.65,283.99 L579.33,285.73 L581.02,287.66 L582.70,289.77 L584.38,292.06 L586.07,294.54 L587.75,297.19 L589.43,300.03 L591.12,303.05 L592.80,306.26 L594.48,309.64 L596.17,313.21 L597.85,316.97 L599.53,320.90 L601.22,325.02 L602.90,329.32 L604.58,333.80 L606.27,338.46 L607.95,343.31 L609.63,348.34 L611.32,353.55 L613.00,358.94" fill="none" stroke="#fff" stroke-opacity="0.26" stroke-width="2.8"/><path d="M512.00,358.29 L513.68,352.92 L515.37,347.73 L517.05,342.72 L518.73,337.90 L520.42,333.26 L522.10,328.80 L523.78,324.52 L525.47,320.42 L527.15,316.51 L528.83,312.78 L530.52,309.23 L532.20,305.87 L533.88,302.69 L535.57,299.68 L537.25,296.87 L538.93,294.23 L540.62,291.78 L542.30,289.51 L543.98,287.42 L545.67,285.52 L547.35,283.79 L549.03,282.25 L550.72,280.90 L552.40,279.72 L554.08,278.73 L555.77,277.92 L557.45,277.29 L559.13,276.84 L560.82,276.58 L562.50,276.50 L564.18,276.60 L565.87,276.89 L567.55,277.35 L569.23,278.00 L570.92,278.84 L572.60,279.85 L574.28,281.05 L575.97,282.43 L577.65,283.99 L579.33,285.73 L581.02,287.66 L582.70,289.77 L584.38,292.06 L586.07,294.54 L587.75,297.19 L589.43,300.03 L591.12,303.05 L592.80,306.26 L594.48,309.64 L596.17,313.21 L597.85,316.97 L599.53,320.90 L601.22,325.02 L602.90,329.32 L604.58,333.80 L606.27,338.46 L607.95,343.31 L609.63,348.34 L611.32,353.55 L613.00,358.94" fill="none" stroke="#fff" stroke-opacity="0.72" stroke-width="1.05"/></g></g><rect x="502.8" y="213.4" width="119.40000000000003" height="125.20000000000002" fill="none" stroke="#9a9a9a" stroke-width="0.6"/><line x1="500.3" y1="216.3" x2="502.8" y2="216.3" stroke="#333" stroke-width="0.8"/><text x="495.3" y="220.4" font-size="10.2" text-anchor="end" font-weight="normal" fill="#262626" >0.6</text><line x1="500.3" y1="276.2" x2="502.8" y2="276.2" stroke="#333" stroke-width="0.8"/><text x="495.3" y="280.3" font-size="10.2" text-anchor="end" font-weight="normal" fill="#262626" >0.0</text><line x1="500.3" y1="335.4" x2="502.8" y2="335.4" stroke="#333" stroke-width="0.8"/><text x="495.3" y="339.5" font-size="10.2" text-anchor="end" font-weight="normal" fill="#262626" >−0.6</text><line x1="508.70000000000005" y1="338.6" x2="508.70000000000005" y2="341.1" stroke="#333" stroke-width="0.8"/><text x="508.70000000000005" y="353.6" font-size="10.2" text-anchor="middle" font-weight="normal" fill="#262626" >−0.1</text><line x1="562.7" y1="338.6" x2="562.7" y2="341.1" stroke="#333" stroke-width="0.8"/><text x="562.7" y="353.6" font-size="10.2" text-anchor="middle" font-weight="normal" fill="#262626" >0.0</text><line x1="616.7" y1="338.6" x2="616.7" y2="341.1" stroke="#333" stroke-width="0.8"/><text x="616.7" y="353.6" font-size="10.2" text-anchor="middle" font-weight="normal" fill="#262626" >0.1</text><rect x="630.1" y="213.4" width="6" height="125.20000000000002" fill="url(#cbar)"/><text x="643.1" y="217.2" font-size="10.2" text-anchor="start" font-weight="normal" fill="#262626" >1.0</text><text x="643.1" y="279.7" font-size="10.2" text-anchor="start" font-weight="normal" fill="#262626" >0.5</text><text x="643.1" y="342.2" font-size="10.2" text-anchor="start" font-weight="normal" fill="#262626" >0</text><text x="537" y="371.5" font-size="10.4" text-anchor="start" font-weight="normal" fill="#262626" >k<tspan font-size="6.5" dy="2"> ||</tspan><tspan dy="-2"> [rad/um]</tspan></text><text x="464.3" y="276.0" font-size="10" text-anchor="middle" font-weight="normal" fill="#262626" transform="rotate(-90 464.3 276.0)">(<tspan font-family="Liberation Serif, serif">ω</tspan> − <tspan font-family="Liberation Serif, serif">ω</tspan><tspan font-size="6.5" dy="2">0</tspan><tspan dy="-2">)[rad/ps]</tspan></text><g filter="url(#mg)"><rect x="51.2" y="416.6" width="120.60000000000001" height="117.19999999999993" fill="url(#gg)"/></g><rect x="51.2" y="416.6" width="120.60000000000001" height="117.19999999999993" fill="none" stroke="#9a9a9a" stroke-width="0.6"/><line x1="48.7" y1="421.6" x2="51.2" y2="421.6" stroke="#333" stroke-width="0.8"/><text x="43.7" y="425.70000000000005" font-size="10.2" text-anchor="end" font-weight="normal" fill="#262626" >0.1</text><line x1="48.7" y1="475.3" x2="51.2" y2="475.3" stroke="#333" stroke-width="0.8"/><text x="43.7" y="479.40000000000003" font-size="10.2" text-anchor="end" font-weight="normal" fill="#262626" >0.0</text><line x1="48.7" y1="529" x2="51.2" y2="529" stroke="#333" stroke-width="0.8"/><text x="43.7" y="533.1" font-size="10.2" text-anchor="end" font-weight="normal" fill="#262626" >−0.1</text><line x1="61.3" y1="533.8" x2="61.3" y2="536.3" stroke="#333" stroke-width="0.8"/><text x="61.3" y="548.8" font-size="10.2" text-anchor="middle" font-weight="normal" fill="#262626" >0</text><line x1="111.5" y1="533.8" x2="111.5" y2="536.3" stroke="#333" stroke-width="0.8"/><text x="111.5" y="548.8" font-size="10.2" text-anchor="middle" font-weight="normal" fill="#262626" >50</text><line x1="161.7" y1="533.8" x2="161.7" y2="536.3" stroke="#333" stroke-width="0.8"/><text x="161.7" y="548.8" font-size="10.2" text-anchor="middle" font-weight="normal" fill="#262626" >100</text><text x="112" y="412.3" font-size="10.4" text-anchor="middle" font-weight="normal" fill="#262626" >z = 0 mm</text><text x="111.5" y="567" font-size="10.4" text-anchor="middle" font-weight="normal" fill="#262626" >τ [ps]</text><text x="15.2" y="475.2" font-size="10.4" text-anchor="middle" font-weight="normal" fill="#262626" transform="rotate(-90 15.2 475.2)">x, y [mm]</text><g filter="url(#mgb)" clip-path="url(#ch)"><rect x="277.2" y="416.6" width="120.69999999999999" height="117.39999999999998" fill="#000"/><use href="#xw" transform="translate(329.3 475)" opacity="1.0"/></g><rect x="277.2" y="416.6" width="120.69999999999999" height="117.39999999999998" fill="none" stroke="#9a9a9a" stroke-width="0.6"/><line x1="274.7" y1="421.6" x2="277.2" y2="421.6" stroke="#333" stroke-width="0.8"/><text x="269.7" y="425.70000000000005" font-size="10.2" text-anchor="end" font-weight="normal" fill="#262626" >0.1</text><line x1="274.7" y1="475.3" x2="277.2" y2="475.3" stroke="#333" stroke-width="0.8"/><text x="269.7" y="479.40000000000003" font-size="10.2" text-anchor="end" font-weight="normal" fill="#262626" >0.0</text><line x1="274.7" y1="529" x2="277.2" y2="529" stroke="#333" stroke-width="0.8"/><text x="269.7" y="533.1" font-size="10.2" text-anchor="end" font-weight="normal" fill="#262626" >−0.1</text><line x1="287" y1="534" x2="287" y2="536.5" stroke="#333" stroke-width="0.8"/><text x="287" y="549" font-size="10.2" text-anchor="middle" font-weight="normal" fill="#262626" >0</text><line x1="337.2" y1="534" x2="337.2" y2="536.5" stroke="#333" stroke-width="0.8"/><text x="337.2" y="549" font-size="10.2" text-anchor="middle" font-weight="normal" fill="#262626" >50</text><line x1="387.4" y1="534" x2="387.4" y2="536.5" stroke="#333" stroke-width="0.8"/><text x="387.4" y="549" font-size="10.2" text-anchor="middle" font-weight="normal" fill="#262626" >100</text><text x="336" y="412.3" font-size="10.4" text-anchor="middle" font-weight="normal" fill="#262626" >z = 50 mm</text><text x="337.2" y="567" font-size="10.4" text-anchor="middle" font-weight="normal" fill="#262626" >τ [ps]</text><text x="240.3" y="475.3" font-size="10.4" text-anchor="middle" font-weight="normal" fill="#262626" transform="rotate(-90 240.3 475.3)">x, y [mm]</text><g filter="url(#mgb)" clip-path="url(#ci)"><rect x="502.7" y="416.6" width="120.50000000000006" height="117.39999999999998" fill="#000"/><use href="#xw" transform="translate(596.3 475)" opacity="0.8"/></g><rect x="502.7" y="416.6" width="120.50000000000006" height="117.39999999999998" fill="none" stroke="#9a9a9a" stroke-width="0.6"/><line x1="500.2" y1="421.6" x2="502.7" y2="421.6" stroke="#333" stroke-width="0.8"/><text x="495.2" y="425.70000000000005" font-size="10.2" text-anchor="end" font-weight="normal" fill="#262626" >0.1</text><line x1="500.2" y1="475.3" x2="502.7" y2="475.3" stroke="#333" stroke-width="0.8"/><text x="495.2" y="479.40000000000003" font-size="10.2" text-anchor="end" font-weight="normal" fill="#262626" >0.0</text><line x1="500.2" y1="529" x2="502.7" y2="529" stroke="#333" stroke-width="0.8"/><text x="495.2" y="533.1" font-size="10.2" text-anchor="end" font-weight="normal" fill="#262626" >−0.1</text><line x1="512.9" y1="534" x2="512.9" y2="536.5" stroke="#333" stroke-width="0.8"/><text x="512.9" y="549" font-size="10.2" text-anchor="middle" font-weight="normal" fill="#262626" >0</text><line x1="563.1" y1="534" x2="563.1" y2="536.5" stroke="#333" stroke-width="0.8"/><text x="563.1" y="549" font-size="10.2" text-anchor="middle" font-weight="normal" fill="#262626" >50</text><line x1="613.3" y1="534" x2="613.3" y2="536.5" stroke="#333" stroke-width="0.8"/><text x="613.3" y="549" font-size="10.2" text-anchor="middle" font-weight="normal" fill="#262626" >100</text><text x="561" y="412.3" font-size="10.4" text-anchor="middle" font-weight="normal" fill="#262626" >z = 100 mm</text><text x="563.1" y="567" font-size="10.4" text-anchor="middle" font-weight="normal" fill="#262626" >τ [ps]</text><text x="466" y="475.3" font-size="10.4" text-anchor="middle" font-weight="normal" fill="#262626" transform="rotate(-90 466 475.3)">x, y [mm]</text>
</svg></body></html>
